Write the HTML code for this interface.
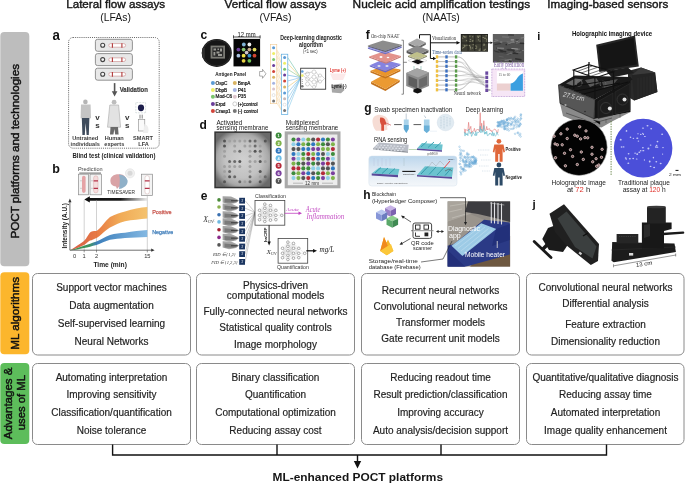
<!DOCTYPE html>
<html><head><meta charset="utf-8">
<style>
html,body{margin:0;padding:0;background:#fff;width:685px;height:484px;overflow:hidden}
svg{display:block;will-change:transform}
text{font-family:"Liberation Sans",sans-serif}
.bx{font-size:10px;fill:#1e1e1e;stroke:#1e1e1e;stroke-width:0.18}
.hd{font-size:10.7px;font-weight:bold;fill:#161616}
</style></head><body>
<svg width="685" height="484" viewBox="0 0 685 484">
<!-- ===== headings ===== -->
<g style="font-weight:normal;font-size:11.6px;fill:#161616;stroke:#161616;stroke-width:0.4">
<text x="66.2" y="7.9" textLength="99" lengthAdjust="spacingAndGlyphs">Lateral flow assays</text>
<text x="224.5" y="7.9" textLength="102" lengthAdjust="spacingAndGlyphs">Vertical flow assays</text>
<text x="352.6" y="7.9" textLength="177.5" lengthAdjust="spacingAndGlyphs">Nucleic acid amplification testings</text>
<text x="547.3" y="7.9" textLength="121" lengthAdjust="spacingAndGlyphs">Imaging-based sensors</text>
</g>
<g style="font-size:11px;fill:#161616">
<text x="100.3" y="21.2" textLength="30.6" lengthAdjust="spacingAndGlyphs">(LFAs)</text>
<text x="259.5" y="21.2" textLength="32" lengthAdjust="spacingAndGlyphs">(VFAs)</text>
<text x="422.3" y="21.2" textLength="37.5" lengthAdjust="spacingAndGlyphs">(NAATs)</text>
</g>

<!-- ===== side tabs ===== -->
<rect x="0.3" y="32" width="29" height="234.2" rx="4" fill="#bdbdbd"/>
<rect x="0.3" y="272.2" width="29" height="82" rx="4" fill="#fcb62c"/>
<rect x="0.3" y="363" width="29" height="81" rx="4" fill="#5dbd5b"/>
<g style="font-weight:normal;font-size:11.8px;fill:#111;stroke:#111;stroke-width:0.45">
<text transform="translate(18.6,238.5) rotate(-90)" textLength="174.5" lengthAdjust="spacingAndGlyphs">POCT platforms and technologies</text>
<text transform="translate(18.6,349.8) rotate(-90)" textLength="73" lengthAdjust="spacingAndGlyphs">ML algorithms</text>
<text transform="translate(12.2,439.3) rotate(-90)" textLength="71.8" lengthAdjust="spacingAndGlyphs">Advantages &amp;</text>
<text transform="translate(24.8,430.3) rotate(-90)" textLength="55.3" lengthAdjust="spacingAndGlyphs">uses of ML</text>
</g>

<!-- ===== boxes ===== -->
<g fill="none" stroke="#8a8a8a" stroke-width="1">
<rect x="32.5" y="273.5" width="158" height="81.5" rx="5"/>
<rect x="196.5" y="273.5" width="158" height="81.5" rx="5"/>
<rect x="361.5" y="273.5" width="158" height="81.5" rx="5"/>
<rect x="526.5" y="273.5" width="157.5" height="81.5" rx="5"/>
<rect x="32.5" y="363.5" width="158" height="81" rx="5"/>
<rect x="196.5" y="363.5" width="158" height="81" rx="5"/>
<rect x="361.5" y="363.5" width="158" height="81" rx="5"/>
<rect x="526.5" y="363.5" width="157.5" height="81" rx="5"/>
</g>
<g class="bx" text-anchor="middle">
<text x="111.5" y="291.1">Support vector machines</text>
<text x="111.5" y="309.0">Data augmentation</text>
<text x="111.5" y="327.0">Self-supervised learning</text>
<text x="111.5" y="344.8">Neural Networks</text>

<text x="275.5" y="288.6">Physics-driven</text>
<text x="275.5" y="298.5">computational models</text>
<text x="275.5" y="314.7">Fully-connected neural networks</text>
<text x="275.5" y="330.8">Statistical quality controls</text>
<text x="275.5" y="347.8">Image morphology</text>

<text x="440.5" y="294.4">Recurrent neural networks</text>
<text x="440.5" y="310.3">Convolutional neural networks</text>
<text x="440.5" y="326.0">Transformer models</text>
<text x="440.5" y="342.3">Gate recurrent unit models</text>

<text x="605.5" y="290.9">Convolutional neural networks</text>
<text x="605.5" y="307.3">Differential analysis</text>
<text x="605.5" y="327.6">Feature extraction</text>
<text x="605.5" y="344.7">Dimensionality reduction</text>

<text x="111.5" y="380.8">Automating interpretation</text>
<text x="111.5" y="398.4">Improving sensitivity</text>
<text x="111.5" y="416.3">Classification/quantification</text>
<text x="111.5" y="434.3">Noise tolerance</text>

<text x="275.5" y="380.8">Binary classification</text>
<text x="275.5" y="398.4">Quantification</text>
<text x="275.5" y="416.3">Computational optimization</text>
<text x="275.5" y="434.3">Reducing assay cost</text>

<text x="440.5" y="380.8">Reducing readout time</text>
<text x="440.5" y="398.4">Result prediction/classification</text>
<text x="440.5" y="416.3">Improving accuracy</text>
<text x="440.5" y="434.3">Auto analysis/decision support</text>

<text x="605.5" y="380.8">Quantitative/qualitative diagnosis</text>
<text x="605.5" y="398.4">Reducing assay time</text>
<text x="605.5" y="416.3">Automated interpretation</text>
<text x="605.5" y="434.3">Image quality enhancement</text>
</g>

<!-- ===== connectors ===== -->
<g stroke="#111" stroke-width="1.4" fill="none">
<path d="M112.6 444.5 V455 H606.5 V444.5 M277 444.5 V455 M441 444.5 V455 M357.5 455 V462"/>
</g>
<path d="M353.8 461 L361.2 461 L357.5 468.5 Z" fill="#111"/>
<text x="272.5" y="480.6" textLength="170.5" lengthAdjust="spacingAndGlyphs" style="font-size:11.3px;font-weight:bold;fill:#161616">ML-enhanced POCT platforms</text>

<!-- PANELS -->
<!-- ===== panel a ===== -->
<g id="pa">
<text x="52.6" y="40.2" textLength="7.4" lengthAdjust="spacingAndGlyphs" style="font-size:14px;font-weight:bold;fill:#111">a</text>
<rect x="68.6" y="37.5" width="90.6" height="110.7" rx="4.5" fill="none" stroke="#555" stroke-width="0.9" stroke-dasharray="1,1.1"/>
<g stroke="#7a7a7a" stroke-width="0.8" fill="#e8e8e8">
<rect x="95.4" y="39.3" width="37" height="12" rx="2.2"/>
<rect x="95.4" y="53.6" width="37" height="12" rx="2.2"/>
<rect x="95.4" y="68.2" width="37" height="12" rx="2.2"/>
</g>
<g fill="#f4f4f4" stroke="#444" stroke-width="1.1">
<circle cx="102.7" cy="45.3" r="2"/><circle cx="102.7" cy="59.6" r="2"/><circle cx="102.7" cy="74.2" r="2"/>
</g>
<g fill="#fff" stroke="#c98a8a" stroke-width="0.6">
<rect x="108.8" y="43.6" width="16.8" height="3.6" rx="1.8"/>
<rect x="108.8" y="57.9" width="16.8" height="3.6" rx="1.8"/>
<rect x="108.8" y="72.5" width="16.8" height="3.6" rx="1.8"/>
</g>
<g stroke="#b23a3a" stroke-width="1.1">
<path d="M112.4 43.2V47.8M121.9 43.2V47.8M112.4 57.5V62.1M121.9 57.5V62.1M112.4 72.1V76.7M121.9 72.1V76.7"/>
</g>
<path d="M114.6 83.1V92" stroke="#555" stroke-width="1.6"/>
<path d="M111.8 91.2H117.4L114.6 96.4Z" fill="#555"/>
<text x="119.7" y="91.6" style="font-size:6.6px;font-weight:bold;fill:#333;stroke:#333;stroke-width:0.15" textLength="28.2" lengthAdjust="spacingAndGlyphs">Validation</text>
<!-- person 1 -->
<circle cx="85.4" cy="101.9" r="2.3" fill="#b5b5b5"/>
<path d="M81 104.6 H90.6 L91 118.2 H80.6 Z" fill="#c4c4c4"/>
<path d="M81.8 118 H89.4 L88.8 135 H86.6 L85.6 123 L84.8 135 H82.4 Z" fill="#3e4b5c"/>
<!-- person 2 -->
<circle cx="114.1" cy="102.2" r="2.4" fill="#bdbdbd"/>
<path d="M109.8 105 H118.6 L120.6 127.2 H107.5 Z" fill="#e2e2e2" stroke="#a8a8a8" stroke-width="0.6"/>
<path d="M110.5 127 H118 L118.6 134.4 H115.2 L114.4 129 L113.4 134.4 H110 Z" fill="#6a6a6a"/>
<g style="font-size:6.2px;font-weight:bold;fill:#333" text-anchor="middle">
<text x="97.6" y="120.4" style="font-size:8px">v</text><text x="97.6" y="127.6" style="font-size:8px">s</text>
<text x="127.2" y="120.4" style="font-size:8px">v</text><text x="127.2" y="127.6" style="font-size:8px">s</text>
</g>
<rect x="135.8" y="102.6" width="9.8" height="10.2" fill="none" stroke="#9aa" stroke-width="0.6" stroke-dasharray="0.6,0.9"/>
<ellipse cx="141" cy="107.8" rx="3.1" ry="3.4" fill="#1c1d4a"/>
<path d="M140 114.7V118.6M142.2 114.7V118.6" stroke="#333" stroke-width="0.6"/>
<rect x="138.4" y="119.4" width="6.4" height="11.6" fill="#fafafa" stroke="#8a8a8a" stroke-width="0.6"/>
<path d="M144.5 124 Q150 126 148 133 L143 133Z" fill="#eee"/>
<g style="font-size:5.6px;font-weight:bold;fill:#3a3a3a" text-anchor="middle">
<text x="85.2" y="140.3">Untrained</text><text x="85.2" y="146.2">individuals</text>
<text x="114.3" y="140.3">Human</text><text x="114.3" y="146.2">experts</text>
<text x="143" y="140.3">SMART</text><text x="143.6" y="146.2">LFA</text>
</g>
<text x="72.4" y="158.3" style="font-size:6.9px;font-weight:bold;fill:#222" textLength="83" lengthAdjust="spacingAndGlyphs">Blind test (clinical validation)</text>
</g>
<!-- ===== panel b ===== -->
<g id="pb">
<text x="52.3" y="172.7" style="font-size:12.5px;font-weight:bold;fill:#111">b</text>
<text x="77.9" y="170.5" style="font-size:5.6px;fill:#444" textLength="24.7" lengthAdjust="spacingAndGlyphs">Prediction</text>
<path d="M79.3 173.1H101" stroke="#555" stroke-width="0.9"/>
<g fill="#f3f3f3" stroke="#8c8c8c" stroke-width="0.7">
<rect x="78.5" y="174.2" width="9.9" height="20.6"/>
<rect x="90" y="174.2" width="11.5" height="20.6"/>
<rect x="141.6" y="174.2" width="10.9" height="21.3"/>
</g>
<rect x="82" y="175.8" width="3.6" height="17.1" rx="1.8" fill="#e5a3a6"/>
<rect x="93.6" y="175.8" width="4.4" height="17.1" rx="2.2" fill="#f5dcdc" stroke="#d49a9a" stroke-width="0.4"/>
<path d="M93.6 180.8H98M93.6 188.3H98" stroke="#b4344a" stroke-width="1.2"/>
<rect x="145" y="175.6" width="4.4" height="18.4" rx="2.2" fill="#fff" stroke="#c9a0a0" stroke-width="0.4"/>
<path d="M144.8 180.8H149.6M144.8 188.3H149.6" stroke="#b4344a" stroke-width="1.3"/>
<path d="M80 180.8H82M80 188.3H82M91 180.8H93M91 188.3H93" stroke="#999" stroke-width="0.4"/>
<!-- brain -->
<path d="M110.5 182 C109.5 176 115 173.6 120 174.3 C124 174.6 126 177 126 180 C126 184 123 186.5 119 186.8 L117 189 L116 186.5 C112.5 186 110.8 184.5 110.5 182Z" fill="#d9a3a6"/>
<path d="M119 174.5 C123 174.6 126.5 177 127.6 180.5 C128 184 125.5 187 121.5 188.5 L119 189 C119.8 184 120.4 179 119 174.5Z" fill="#8fb0c8"/>
<circle cx="130" cy="173.3" r="4.6" fill="#f0f0f0" stroke="#ddd" stroke-width="0.5"/>
<circle cx="130" cy="173.3" r="2.5" fill="#d8d8d8"/>
<text x="107.3" y="194" style="font-size:5.9px;fill:#333" textLength="27.7" lengthAdjust="spacingAndGlyphs">TIMESAVER</text>
<defs>
<linearGradient id="arrg" gradientUnits="userSpaceOnUse" x1="88" x2="147" y1="0" y2="0"><stop offset="0" stop-color="#111"/><stop offset="0.55" stop-color="#1a1a1a"/><stop offset="1" stop-color="#333" stop-opacity="0.1"/></linearGradient>
<linearGradient id="posg" x1="0" x2="1" y1="0" y2="0"><stop offset="0" stop-color="#d24f39"/><stop offset="0.35" stop-color="#e66f35"/><stop offset="0.65" stop-color="#f0a448"/><stop offset="1" stop-color="#f4bd62"/></linearGradient>
<linearGradient id="negg" x1="0" x2="1" y1="0" y2="0"><stop offset="0" stop-color="#2e8a3e"/><stop offset="0.25" stop-color="#2f8a50"/><stop offset="0.35" stop-color="#2d75b6"/><stop offset="1" stop-color="#79b2e0"/></linearGradient>
</defs>
<path d="M88.5 199.4H147" stroke="url(#arrg)" stroke-width="2.6"/>
<path d="M84.3 199.4L89.8 196.3V202.5Z" fill="#111"/>
<!-- guide lines -->
<path d="M84.2 200V250M96.5 200V250M147.3 196V250" stroke="#9a9a9a" stroke-width="0.45"/>
<!-- bands -->
<path d="M70 250.2 C75 247.5 80 243.5 84 240.9 C87 238.5 88.5 233.5 91 231.8 C93.5 230.8 95 231 96.5 230.9 C101 228 105 221 110 216.9 C115 214.5 120 213 125 211.6 C133 209 140 207.5 147.3 207 L147.3 218.6 C140 219.5 132 220 125 221.3 C119 223 115 225 110 227.4 C104 231 100 236.5 96.5 237.9 C94 239 92 240 90 240.5 C88 241.5 86 244 84 244.9 C80 247 75 249 70 250.2Z" fill="url(#posg)" opacity="0.92"/>
<path d="M70 250.2 C75 249 80 247 84 245.8 C88 244.5 92 242.5 96.5 241.4 C101 239.5 105 236.5 110 234.9 C115 233.5 120 233 125 232.7 C133 231.5 140 230.5 147.3 230 L147.3 237 C140 237.5 132 237.5 125 237.9 C119 238.5 115 238.8 110 239.7 C105 241 101 243.5 96.5 244.9 C92 246 88 247.3 84 247.9 C79 249 75 249.7 70 250.2Z" fill="url(#negg)" opacity="0.92"/>
<!-- axes -->
<path d="M69.9 201.5V250.2H152" stroke="#333" stroke-width="0.7" fill="none"/>
<path d="M68.3 202.2L69.9 198.6L71.5 202.2Z M151.2 248.6L154.6 250.2L151.2 251.8Z" fill="#333"/>
<path d="M84.2 250.2V252.4M96.5 250.2V252.4M147.3 250.2V252.4" stroke="#333" stroke-width="0.5"/>
<g style="font-size:5.7px;fill:#333" text-anchor="middle">
<text x="74.6" y="258.4">0</text><text x="84.2" y="258.4">1</text><text x="96.5" y="258.4">2</text><text x="147.3" y="258.4">15</text>
</g>
<text x="93.4" y="266.8" style="font-size:7.2px;font-weight:bold;fill:#222" textLength="33.5" lengthAdjust="spacingAndGlyphs">Time (min)</text>
<text transform="translate(66.8,248.6) rotate(-90)" style="font-size:7.2px;font-weight:bold;fill:#222" textLength="45.6" lengthAdjust="spacingAndGlyphs">Intensity (A.U.)</text>
<text x="152.2" y="214.3" style="font-size:6.1px;fill:#c7534a;stroke:#c7534a;stroke-width:0.25" textLength="19.3" lengthAdjust="spacingAndGlyphs">Positive</text>
<text x="152.2" y="234.4" style="font-size:6.1px;fill:#3a7ab8;stroke:#3a7ab8;stroke-width:0.25" textLength="21" lengthAdjust="spacingAndGlyphs">Negative</text>
</g>

<!-- /AB -->
<!-- CDE -->
<!-- ===== panel c ===== -->
<text x="200.6" y="39.4" style="font-size:12px;font-weight:bold;fill:#111">c</text>
<ellipse cx="216.8" cy="52.9" rx="15" ry="14" fill="#161616"/>
<path d="M202.5 48 Q201 53 202.6 58 L205 58 L205 48Z" fill="#2a2a2a"/>
<ellipse cx="216.8" cy="52.9" rx="14" ry="13" fill="none" stroke="#3a3a3a" stroke-width="0.6"/>
<rect x="210.6" y="45.6" width="14.4" height="13" fill="#7a7a74"/>
<rect x="212.4" y="47.4" width="10.8" height="9.4" fill="#2a2a2a"/>
<path d="M213.5 48.5h2.5v2h-2.5zM217.5 48.5h1.5v1.5h-1.5zM220 48.5h2v3h-2zM213.5 52h1.8v3.5h-1.8zM216.5 51.5h3v2h-3zM218 54h4v2h-4z" fill="#9a9a94"/>
<rect x="233.5" y="38.9" width="26.6" height="27.5" fill="#050505"/>
<path d="M233.5 37H260.1M233.5 35.3V38.5M260.1 35.3V38.5" stroke="#222" stroke-width="0.8"/>
<text x="237.6" y="37" style="font-size:6.6px;fill:#111" textLength="18" lengthAdjust="spacingAndGlyphs">12 mm</text>
<circle cx="243.8" cy="44.5" r="1.9" fill="#7fb2d6"/>
<circle cx="249.4" cy="44.5" r="1.9" fill="#f2f2f2"/>
<circle cx="238.4" cy="49.6" r="1.9" fill="#6b3f98"/>
<circle cx="243.6" cy="49.6" r="1.9" fill="#8cc874"/>
<circle cx="249.4" cy="49.6" r="1.9" fill="#c8aa8c"/>
<circle cx="254.5" cy="49.6" r="1.9" fill="#e6df5e"/>
<circle cx="246.6" cy="52.6" r="1.9" fill="#cfc6cc"/>
<circle cx="238.4" cy="55.7" r="1.9" fill="#a9c2df"/>
<circle cx="243.6" cy="55.7" r="1.9" fill="#eedf44"/>
<circle cx="249.4" cy="55.7" r="1.9" fill="#3a92d2"/>
<circle cx="254.5" cy="55.7" r="1.9" fill="#d24532"/>
<circle cx="243.6" cy="60.8" r="1.9" fill="#e6cf44"/>
<circle cx="249.4" cy="60.8" r="1.9" fill="#72c152"/>
<text x="215.2" y="75.6" style="font-size:5.6px;font-weight:bold;fill:#222" textLength="31" lengthAdjust="spacingAndGlyphs">Antigen Panel</text>
<circle cx="212.9" cy="82.9" r="2" fill="#5b9bd5"/>
<text x="215.5" y="84.5" style="font-size:4.7px;fill:#222;stroke:#222;stroke-width:0.22">OspC</text>
<circle cx="212.9" cy="89.9" r="2" fill="#eeee66"/>
<text x="215.5" y="91.5" style="font-size:4.7px;fill:#222;stroke:#222;stroke-width:0.22">DbpB</text>
<circle cx="212.9" cy="96.80000000000001" r="2" fill="#7cc66e"/>
<text x="215.5" y="98.4" style="font-size:4.7px;fill:#222;stroke:#222;stroke-width:0.22">Mod-C6</text>
<circle cx="212.9" cy="103.9" r="2" fill="#6a3d9a"/>
<text x="215.5" y="105.5" style="font-size:4.7px;fill:#222;stroke:#222;stroke-width:0.22">Erpd</text>
<circle cx="212.9" cy="111.0" r="2" fill="#d2443a"/>
<text x="215.5" y="112.6" style="font-size:4.7px;fill:#222;stroke:#222;stroke-width:0.22">Crasp1</text>
<circle cx="234.8" cy="82.9" r="2" fill="#d9b464"/>
<text x="237.7" y="84.5" style="font-size:4.7px;fill:#222;stroke:#222;stroke-width:0.22">BmpA</text>
<circle cx="234.8" cy="89.9" r="2" fill="#a5b3e2"/>
<text x="237.7" y="91.5" style="font-size:4.7px;fill:#222;stroke:#222;stroke-width:0.22">P41</text>
<circle cx="234.8" cy="96.80000000000001" r="2" fill="#dcc4cc"/>
<text x="237.7" y="98.4" style="font-size:4.7px;fill:#222;stroke:#222;stroke-width:0.22">P35</text>
<circle cx="234.8" cy="103.9" r="2" fill="#ffffff" stroke="#888" stroke-width="0.4"/>
<text x="237.7" y="105.5" style="font-size:4.7px;fill:#222;stroke:#222;stroke-width:0.22">(+)control</text>
<circle cx="234.8" cy="111.0" r="2" fill="#777777"/>
<text x="237.7" y="112.6" style="font-size:4.7px;fill:#222;stroke:#222;stroke-width:0.22">(-) control</text>
<path d="M259.6 71.5H262.5V69.3L266 73.8L262.5 78.3V76.1H259.6Z" fill="#fff" stroke="#777" stroke-width="0.6"/>
<text x="280.2" y="40.3" style="font-size:6.6px;font-weight:bold;fill:#222" textLength="61.8" lengthAdjust="spacingAndGlyphs">Deep-learning diagnostic</text>
<text x="299.1" y="46.6" style="font-size:6.6px;font-weight:bold;fill:#222" textLength="23.9" lengthAdjust="spacingAndGlyphs">algorithm</text>
<text x="303.1" y="52.6" style="font-size:4.6px;fill:#333" textLength="14.5" lengthAdjust="spacingAndGlyphs">(&lt;1 sec)</text>
<path d="M275.5 47.7L281.6 57.4M275.5 47.7L281.6 63.3M275.5 53.6L281.6 63.3M275.5 53.6L281.6 69.2M275.5 59.5L281.6 69.2M275.5 59.5L281.6 75.1M275.5 65.5L281.6 75.1M275.5 65.5L281.6 81.0M275.5 71.4L281.6 81.0M275.5 71.4L281.6 87.0M275.5 77.3L281.6 87.0M275.5 77.3L281.6 92.9M275.5 83.2L281.6 92.9M275.5 83.2L281.6 98.8M275.5 89.1L281.6 98.8M275.5 89.1L281.6 104.7M275.5 95.1L281.6 104.7M275.5 95.1L281.6 110.6M275.5 101.0L281.6 110.6" stroke="#f0c070" stroke-width="0.35" fill="none"/>
<path d="M287.6 57.4L300.7 77.5" stroke="#3aaa8a" stroke-width="0.45"/>
<path d="M287.6 63.3L300.7 77.5" stroke="#e0c040" stroke-width="0.45"/>
<path d="M287.6 69.2L300.7 77.5" stroke="#60b060" stroke-width="0.45"/>
<path d="M287.6 75.1L300.7 77.5" stroke="#3090d0" stroke-width="0.45"/>
<path d="M287.6 81.0L300.7 77.5" stroke="#50a0e0" stroke-width="0.45"/>
<path d="M287.6 87.0L300.7 77.5" stroke="#e0b040" stroke-width="0.45"/>
<path d="M287.6 92.9L300.7 77.5" stroke="#3a9ad8" stroke-width="0.45"/>
<path d="M287.6 98.8L300.7 77.5" stroke="#5ab0e0" stroke-width="0.45"/>
<path d="M287.6 104.7L300.7 77.5" stroke="#4aa0d8" stroke-width="0.45"/>
<path d="M287.6 110.6L300.7 77.5" stroke="#60b8e0" stroke-width="0.45"/>
<rect x="270.4" y="44.5" width="6.4" height="59.2" fill="#fff" stroke="#f0c890" stroke-width="0.6"/>
<rect x="281.4" y="54.2" width="6.4" height="60.3" fill="#fff" stroke="#5aaadf" stroke-width="0.7"/>
<circle cx="273.6" cy="47.7" r="1.5" fill="#5b9bd5"/>
<circle cx="273.6" cy="53.6" r="1.5" fill="#eeee66"/>
<circle cx="273.6" cy="59.5" r="1.5" fill="#7cc66e"/>
<circle cx="273.6" cy="65.5" r="1.5" fill="#6a3d9a"/>
<circle cx="273.6" cy="71.4" r="1.5" fill="#d2443a"/>
<circle cx="273.6" cy="77.3" r="1.5" fill="#d9b464"/>
<circle cx="273.6" cy="83.2" r="1.5" fill="#a5b3e2"/>
<circle cx="273.6" cy="89.1" r="1.5" fill="#dcc4cc"/>
<circle cx="273.6" cy="95.1" r="1.5" fill="#ffffff" stroke="#aaa" stroke-width="0.3"/>
<circle cx="273.6" cy="101.0" r="1.5" fill="#777777"/>
<circle cx="284.6" cy="57.4" r="1.5" fill="#5b9bd5"/>
<circle cx="284.6" cy="63.3" r="1.5" fill="#eeee66"/>
<circle cx="284.6" cy="69.2" r="1.5" fill="#7cc66e"/>
<circle cx="284.6" cy="75.1" r="1.5" fill="#6a3d9a"/>
<circle cx="284.6" cy="81.0" r="1.5" fill="#d2443a"/>
<circle cx="284.6" cy="87.0" r="1.5" fill="#d9b464"/>
<circle cx="284.6" cy="92.9" r="1.5" fill="#5b9bd5"/>
<circle cx="284.6" cy="98.8" r="1.5" fill="#c8b8b8"/>
<circle cx="284.6" cy="104.7" r="1.5" fill="#ffffff" stroke="#aaa" stroke-width="0.3"/>
<circle cx="284.6" cy="110.6" r="1.5" fill="#777777"/>
<rect x="300.7" y="68.2" width="25" height="21" fill="#fff" stroke="#222" stroke-width="0.8"/>
<circle cx="302.3" cy="71.5" r="1.3" fill="#5b9bd5"/><circle cx="302.3" cy="75.6" r="1.3" fill="#eeee66"/><path d="M302.3 79.5v0.6M302.3 81.3v0.6M302.3 83.1v0.6" stroke="#333" stroke-width="0.8"/><circle cx="302.3" cy="86.3" r="1.3" fill="#777"/>
<g fill="none" stroke="#999" stroke-width="0.4"><circle cx="307.5" cy="74" r="2"/><circle cx="307.5" cy="79" r="2"/><circle cx="307.5" cy="84" r="2"/><circle cx="314" cy="72" r="2"/><circle cx="314" cy="77" r="2"/><circle cx="314" cy="82" r="2"/><circle cx="314" cy="87" r="1.6"/><circle cx="320" cy="75.5" r="1.6"/><circle cx="320" cy="81.5" r="1.6"/><path d="M303.5 74L312 72M303.5 76L312 82M309.5 79L312 77M309.5 84L312 87M316 72L318.5 75.5M316 82L318.5 81.5M316 77L318.5 81.5M316 87L318.5 75.5M321.6 75.5L324.5 78.5M321.6 81.5L324.5 78.5"/></g>
<text x="329.7" y="71.9" style="font-size:4.8px;font-weight:bold;fill:#e0302a" textLength="16.2" lengthAdjust="spacingAndGlyphs">Lyme (+)</text>
<path d="M330 73.5 L346 73.5 L343 80 L333 80Z" fill="#fbe4e4" opacity="0.8"/>
<path d="M331.4 85 L342 83.5 L344.5 90 L341 93.2 L332 92.5Z" fill="#a8a8a8"/>
<text x="331.4" y="87.6" style="font-size:4.8px;font-weight:bold;fill:#111" textLength="15.3" lengthAdjust="spacingAndGlyphs">Lyme (-)</text>
<!-- ===== panel d ===== -->
<text x="199.6" y="129.4" style="font-size:12px;font-weight:bold;fill:#111">d</text>
<text x="216.4" y="125" style="font-size:6.6px;fill:#222" textLength="26" lengthAdjust="spacingAndGlyphs">Activated</text>
<text x="216.4" y="130.3" style="font-size:6.6px;fill:#222" textLength="51.9" lengthAdjust="spacingAndGlyphs">sensing membrane</text>
<text x="285.8" y="125" style="font-size:6.6px;fill:#222" textLength="33" lengthAdjust="spacingAndGlyphs">Multiplexed</text>
<text x="285.8" y="130.3" style="font-size:6.6px;fill:#222" textLength="52.5" lengthAdjust="spacingAndGlyphs">sensing membrane</text>
<defs><radialGradient id="memg" cx="0.5" cy="0.5" r="0.6"><stop offset="0" stop-color="#d0d0d0"/><stop offset="0.55" stop-color="#c2c2c2"/><stop offset="0.8" stop-color="#a8a8a8"/><stop offset="1" stop-color="#6a6a6a"/></radialGradient></defs>
<rect x="214.3" y="131.4" width="57.3" height="56.9" fill="#333"/>
<rect x="215.8" y="132.9" width="54.3" height="53.9" fill="url(#memg)"/>
<circle cx="224.5" cy="141.0" r="1.5" fill="#555"/><circle cx="229.6" cy="141.0" r="1.5" fill="#a0a0a0"/><circle cx="234.7" cy="141.0" r="1.5" fill="#a0a0a0"/><circle cx="239.8" cy="141.0" r="1.5" fill="#a0a0a0"/><circle cx="244.9" cy="141.0" r="1.5" fill="#a0a0a0"/><circle cx="250.0" cy="141.0" r="1.5" fill="#6a6a6a"/><circle cx="255.1" cy="141.0" r="1.5" fill="#6a6a6a"/><circle cx="265.3" cy="141.0" r="1.5" fill="#555"/><circle cx="224.5" cy="146.1" r="1.5" fill="#555"/><circle cx="234.7" cy="146.1" r="1.5" fill="#a0a0a0"/><circle cx="244.9" cy="146.1" r="1.5" fill="#a0a0a0"/><circle cx="250.0" cy="146.1" r="1.5" fill="#a0a0a0"/><circle cx="255.1" cy="146.1" r="1.5" fill="#6a6a6a"/><circle cx="260.2" cy="146.1" r="1.5" fill="#a0a0a0"/><circle cx="224.5" cy="151.2" r="1.5" fill="#a0a0a0"/><circle cx="234.7" cy="151.2" r="1.5" fill="#a0a0a0"/><circle cx="239.8" cy="151.2" r="1.5" fill="#6a6a6a"/><circle cx="250.0" cy="151.2" r="1.5" fill="#a0a0a0"/><circle cx="255.1" cy="151.2" r="1.5" fill="#555"/><circle cx="260.2" cy="151.2" r="1.5" fill="#6a6a6a"/><circle cx="224.5" cy="156.3" r="1.5" fill="#a0a0a0"/><circle cx="250.0" cy="156.3" r="1.5" fill="#a0a0a0"/><circle cx="260.2" cy="156.3" r="1.5" fill="#a0a0a0"/><circle cx="229.6" cy="161.4" r="1.5" fill="#6a6a6a"/><circle cx="234.7" cy="161.4" r="1.5" fill="#6a6a6a"/><circle cx="239.8" cy="161.4" r="1.5" fill="#555"/><circle cx="250.0" cy="161.4" r="1.5" fill="#a0a0a0"/><circle cx="255.1" cy="161.4" r="1.5" fill="#a0a0a0"/><circle cx="260.2" cy="161.4" r="1.5" fill="#555"/><circle cx="265.3" cy="161.4" r="1.5" fill="#a0a0a0"/><circle cx="224.5" cy="166.5" r="1.5" fill="#a0a0a0"/><circle cx="229.6" cy="166.5" r="1.5" fill="#a0a0a0"/><circle cx="234.7" cy="166.5" r="1.5" fill="#a0a0a0"/><circle cx="239.8" cy="166.5" r="1.5" fill="#a0a0a0"/><circle cx="250.0" cy="166.5" r="1.5" fill="#a0a0a0"/><circle cx="224.5" cy="171.6" r="1.5" fill="#a0a0a0"/><circle cx="229.6" cy="171.6" r="1.5" fill="#6a6a6a"/><circle cx="250.0" cy="171.6" r="1.5" fill="#a0a0a0"/><circle cx="260.2" cy="171.6" r="1.5" fill="#555"/><circle cx="224.5" cy="176.7" r="1.5" fill="#a0a0a0"/><circle cx="229.6" cy="176.7" r="1.5" fill="#555"/><circle cx="234.7" cy="176.7" r="1.5" fill="#6a6a6a"/><circle cx="250.0" cy="176.7" r="1.5" fill="#6a6a6a"/><circle cx="260.2" cy="176.7" r="1.5" fill="#a0a0a0"/><circle cx="265.3" cy="176.7" r="1.5" fill="#6a6a6a"/><circle cx="224.5" cy="181.8" r="1.5" fill="#555"/><circle cx="239.8" cy="181.8" r="1.5" fill="#6a6a6a"/><circle cx="244.9" cy="181.8" r="1.5" fill="#a0a0a0"/><circle cx="250.0" cy="181.8" r="1.5" fill="#6a6a6a"/><circle cx="260.2" cy="181.8" r="1.5" fill="#555"/>
<circle cx="278.6" cy="135.6" r="3" fill="#3d8c3d"/><text x="278.6" y="137.1" text-anchor="middle" style="font-size:4px;font-weight:bold;fill:#fff">1</text>
<circle cx="278.6" cy="143.2" r="3" fill="#7fb34a"/><text x="278.6" y="144.7" text-anchor="middle" style="font-size:4px;font-weight:bold;fill:#fff">2</text>
<circle cx="278.6" cy="150.7" r="3" fill="#2f78c0"/><text x="278.6" y="152.2" text-anchor="middle" style="font-size:4px;font-weight:bold;fill:#fff">3</text>
<circle cx="278.6" cy="158.2" r="3" fill="#6fbfe8"/><text x="278.6" y="159.8" text-anchor="middle" style="font-size:4px;font-weight:bold;fill:#fff">4</text>
<circle cx="278.6" cy="165.8" r="3" fill="#b52a3a"/><text x="278.6" y="167.3" text-anchor="middle" style="font-size:4px;font-weight:bold;fill:#fff">5</text>
<circle cx="278.6" cy="173.3" r="3" fill="#7b3f9e"/><text x="278.6" y="174.8" text-anchor="middle" style="font-size:4px;font-weight:bold;fill:#fff">6</text>
<circle cx="278.6" cy="180.9" r="3" fill="#555555"/><text x="278.6" y="182.4" text-anchor="middle" style="font-size:4px;font-weight:bold;fill:#fff">7</text>
<rect x="284.7" y="131.4" width="55.8" height="56.9" fill="#a9a9a9"/>
<rect x="287.8" y="134.5" width="49.6" height="50.7" fill="#ececec"/>
<circle cx="293.5" cy="139.5" r="2.05" fill="#3d8c3d"/><circle cx="298.4" cy="139.5" r="2.05" fill="#7b3f9e"/><circle cx="303.3" cy="139.5" r="2.05" fill="#8ecfe8"/><circle cx="308.3" cy="139.5" r="2.05" fill="#7fb34a"/><circle cx="313.2" cy="139.5" r="2.05" fill="#555555"/><circle cx="318.1" cy="139.5" r="2.05" fill="#b52a3a"/><circle cx="323.0" cy="139.5" r="2.05" fill="#2f78c0"/><circle cx="327.9" cy="139.5" r="2.05" fill="#3d8c3d"/><circle cx="332.9" cy="139.5" r="2.05" fill="#7b3f9e"/><circle cx="293.5" cy="144.3" r="2.05" fill="#8ecfe8"/><circle cx="298.4" cy="144.3" r="2.05" fill="#2f78c0"/><circle cx="303.3" cy="144.3" r="2.05" fill="#7fb34a"/><circle cx="308.3" cy="144.3" r="2.05" fill="#3d8c3d"/><circle cx="313.2" cy="144.3" r="2.05" fill="#2f78c0"/><circle cx="318.1" cy="144.3" r="2.05" fill="#7fb34a"/><circle cx="323.0" cy="144.3" r="2.05" fill="#3d8c3d"/><circle cx="327.9" cy="144.3" r="2.05" fill="#555555"/><circle cx="332.9" cy="144.3" r="2.05" fill="#7fb34a"/><circle cx="293.5" cy="149.1" r="2.05" fill="#555555"/><circle cx="298.4" cy="149.1" r="2.05" fill="#555555"/><circle cx="303.3" cy="149.1" r="2.05" fill="#2f78c0"/><circle cx="308.3" cy="149.1" r="2.05" fill="#2f78c0"/><circle cx="313.2" cy="149.1" r="2.05" fill="#7b3f9e"/><circle cx="318.1" cy="149.1" r="2.05" fill="#7b3f9e"/><circle cx="323.0" cy="149.1" r="2.05" fill="#7fb34a"/><circle cx="327.9" cy="149.1" r="2.05" fill="#7fb34a"/><circle cx="332.9" cy="149.1" r="2.05" fill="#b52a3a"/><circle cx="293.5" cy="154.0" r="2.05" fill="#2f78c0"/><circle cx="298.4" cy="154.0" r="2.05" fill="#8ecfe8"/><circle cx="303.3" cy="154.0" r="2.05" fill="#3d8c3d"/><circle cx="308.3" cy="154.0" r="2.05" fill="#b52a3a"/><circle cx="313.2" cy="154.0" r="2.05" fill="#7fb34a"/><circle cx="318.1" cy="154.0" r="2.05" fill="#2f78c0"/><circle cx="323.0" cy="154.0" r="2.05" fill="#555555"/><circle cx="327.9" cy="154.0" r="2.05" fill="#8ecfe8"/><circle cx="332.9" cy="154.0" r="2.05" fill="#3d8c3d"/><circle cx="293.5" cy="158.8" r="2.05" fill="#7b3f9e"/><circle cx="298.4" cy="158.8" r="2.05" fill="#8ecfe8"/><circle cx="303.3" cy="158.8" r="2.05" fill="#7fb34a"/><circle cx="308.3" cy="158.8" r="2.05" fill="#555555"/><circle cx="313.2" cy="158.8" r="2.05" fill="#b52a3a"/><circle cx="318.1" cy="158.8" r="2.05" fill="#2f78c0"/><circle cx="323.0" cy="158.8" r="2.05" fill="#3d8c3d"/><circle cx="327.9" cy="158.8" r="2.05" fill="#7b3f9e"/><circle cx="332.9" cy="158.8" r="2.05" fill="#8ecfe8"/><circle cx="293.5" cy="163.6" r="2.05" fill="#7fb34a"/><circle cx="298.4" cy="163.6" r="2.05" fill="#3d8c3d"/><circle cx="303.3" cy="163.6" r="2.05" fill="#555555"/><circle cx="308.3" cy="163.6" r="2.05" fill="#7b3f9e"/><circle cx="313.2" cy="163.6" r="2.05" fill="#3d8c3d"/><circle cx="318.1" cy="163.6" r="2.05" fill="#555555"/><circle cx="323.0" cy="163.6" r="2.05" fill="#7b3f9e"/><circle cx="327.9" cy="163.6" r="2.05" fill="#b52a3a"/><circle cx="332.9" cy="163.6" r="2.05" fill="#555555"/><circle cx="293.5" cy="168.4" r="2.05" fill="#b52a3a"/><circle cx="298.4" cy="168.4" r="2.05" fill="#b52a3a"/><circle cx="303.3" cy="168.4" r="2.05" fill="#3d8c3d"/><circle cx="308.3" cy="168.4" r="2.05" fill="#3d8c3d"/><circle cx="313.2" cy="168.4" r="2.05" fill="#8ecfe8"/><circle cx="318.1" cy="168.4" r="2.05" fill="#8ecfe8"/><circle cx="323.0" cy="168.4" r="2.05" fill="#555555"/><circle cx="327.9" cy="168.4" r="2.05" fill="#555555"/><circle cx="332.9" cy="168.4" r="2.05" fill="#2f78c0"/><circle cx="293.5" cy="173.2" r="2.05" fill="#3d8c3d"/><circle cx="298.4" cy="173.2" r="2.05" fill="#7fb34a"/><circle cx="303.3" cy="173.2" r="2.05" fill="#7b3f9e"/><circle cx="308.3" cy="173.2" r="2.05" fill="#2f78c0"/><circle cx="313.2" cy="173.2" r="2.05" fill="#555555"/><circle cx="318.1" cy="173.2" r="2.05" fill="#3d8c3d"/><circle cx="323.0" cy="173.2" r="2.05" fill="#b52a3a"/><circle cx="327.9" cy="173.2" r="2.05" fill="#7fb34a"/><circle cx="332.9" cy="173.2" r="2.05" fill="#7b3f9e"/><circle cx="293.5" cy="178.1" r="2.05" fill="#8ecfe8"/><circle cx="298.4" cy="178.1" r="2.05" fill="#7fb34a"/><circle cx="303.3" cy="178.1" r="2.05" fill="#555555"/><circle cx="308.3" cy="178.1" r="2.05" fill="#b52a3a"/><circle cx="313.2" cy="178.1" r="2.05" fill="#2f78c0"/><circle cx="318.1" cy="178.1" r="2.05" fill="#3d8c3d"/><circle cx="323.0" cy="178.1" r="2.05" fill="#7b3f9e"/><circle cx="327.9" cy="178.1" r="2.05" fill="#8ecfe8"/><circle cx="332.9" cy="178.1" r="2.05" fill="#7fb34a"/>
<path d="M293 183.2H303M322 183.2H333" stroke="#666" stroke-width="0.4"/>
<text x="305" y="184.8" style="font-size:4.6px;fill:#333">12 mm</text>
<!-- ===== panel e ===== -->
<text x="200.8" y="199.6" style="font-size:12px;font-weight:bold;fill:#111">e</text>
<path d="M245.1 200.7L255 212.3M245.1 208.2L255 212.3M245.1 216.0L255 212.3M245.1 223.6L255 212.3M245.1 231.3L255 212.3M245.1 238.8L255 212.3M245.1 246.5L255 212.3M245.1 254.1L255 212.3M245.1 261.9L255 212.3" stroke="#777" stroke-width="0.35" fill="none"/>
<circle cx="219" cy="199.9" r="1.8" fill="#4a8a3a"/>
<circle cx="219" cy="207" r="1.8" fill="#8ab050"/>
<circle cx="219" cy="214.8" r="1.8" fill="#3a70b0"/>
<circle cx="219" cy="221.9" r="1.8" fill="#70b8e0"/>
<circle cx="219" cy="229.7" r="1.8" fill="#a02030"/>
<circle cx="219" cy="237.4" r="1.8" fill="#8a2a8a"/>
<circle cx="219" cy="244.9" r="1.8" fill="#555555"/>
<path d="M222.6 196.3L231 196.5L236 198.7L239 200.5L236 202.9L229 204.3L222.6 202.5Z" fill="#a4a4a4"/>
<path d="M224.5 198.5L233 199.3L238.5 200.7L233.5 202.7L224.5 202.5Z" fill="#7a7a7a"/>
<path d="M231 200.7H237.5" stroke="#444" stroke-width="1.1"/>
<path d="M222.6 203.4L231 203.6L236 205.8L239 207.6L236 210.0L229 211.4L222.6 209.6Z" fill="#a4a4a4"/>
<path d="M224.5 205.6L233 206.4L238.5 207.8L233.5 209.8L224.5 209.6Z" fill="#7a7a7a"/>
<path d="M231 207.8H237.5" stroke="#444" stroke-width="1.1"/>
<path d="M222.6 211.2L231 211.4L236 213.6L239 215.4L236 217.8L229 219.2L222.6 217.4Z" fill="#a4a4a4"/>
<path d="M224.5 213.4L233 214.2L238.5 215.6L233.5 217.6L224.5 217.4Z" fill="#7a7a7a"/>
<path d="M231 215.6H237.5" stroke="#444" stroke-width="1.1"/>
<path d="M222.6 218.3L231 218.5L236 220.7L239 222.5L236 224.9L229 226.3L222.6 224.5Z" fill="#a4a4a4"/>
<path d="M224.5 220.5L233 221.3L238.5 222.7L233.5 224.7L224.5 224.5Z" fill="#7a7a7a"/>
<path d="M231 222.7H237.5" stroke="#444" stroke-width="1.1"/>
<path d="M222.6 226.1L231 226.3L236 228.5L239 230.3L236 232.7L229 234.1L222.6 232.3Z" fill="#a4a4a4"/>
<path d="M224.5 228.3L233 229.1L238.5 230.5L233.5 232.5L224.5 232.3Z" fill="#7a7a7a"/>
<path d="M231 230.5H237.5" stroke="#444" stroke-width="1.1"/>
<path d="M222.6 233.8L231 234.0L236 236.2L239 238.0L236 240.4L229 241.8L222.6 240.0Z" fill="#a4a4a4"/>
<path d="M224.5 236.0L233 236.8L238.5 238.2L233.5 240.2L224.5 240.0Z" fill="#7a7a7a"/>
<path d="M231 238.2H237.5" stroke="#444" stroke-width="1.1"/>
<path d="M222.6 241.3L231 241.5L236 243.7L239 245.5L236 247.9L229 249.3L222.6 247.5Z" fill="#a4a4a4"/>
<path d="M224.5 243.5L233 244.3L238.5 245.7L233.5 247.7L224.5 247.5Z" fill="#7a7a7a"/>
<path d="M231 245.7H237.5" stroke="#444" stroke-width="1.1"/>
<rect x="239.2" y="197.8" width="5.8" height="5.8" fill="#1b3560"/><text x="242.1" y="202.0" text-anchor="middle" style="font-size:3px;fill:#dfe6f0;font-family:Liberation Serif;font-style:italic">X</text>
<rect x="239.2" y="205.3" width="5.8" height="5.8" fill="#1b3560"/><text x="242.1" y="209.5" text-anchor="middle" style="font-size:3px;fill:#dfe6f0;font-family:Liberation Serif;font-style:italic">X</text>
<rect x="239.2" y="213.1" width="5.8" height="5.8" fill="#1b3560"/><text x="242.1" y="217.3" text-anchor="middle" style="font-size:3px;fill:#dfe6f0;font-family:Liberation Serif;font-style:italic">X</text>
<rect x="239.2" y="220.7" width="5.8" height="5.8" fill="#1b3560"/><text x="242.1" y="224.9" text-anchor="middle" style="font-size:3px;fill:#dfe6f0;font-family:Liberation Serif;font-style:italic">X</text>
<rect x="239.2" y="228.4" width="5.8" height="5.8" fill="#1b3560"/><text x="242.1" y="232.6" text-anchor="middle" style="font-size:3px;fill:#dfe6f0;font-family:Liberation Serif;font-style:italic">X</text>
<rect x="239.2" y="235.9" width="5.8" height="5.8" fill="#1b3560"/><text x="242.1" y="240.1" text-anchor="middle" style="font-size:3px;fill:#dfe6f0;font-family:Liberation Serif;font-style:italic">X</text>
<rect x="239.2" y="243.6" width="5.8" height="5.8" fill="#1b3560"/><text x="242.1" y="247.8" text-anchor="middle" style="font-size:3px;fill:#dfe6f0;font-family:Liberation Serif;font-style:italic">X</text>
<rect x="239.2" y="251.2" width="5.8" height="5.8" fill="#1b3560"/><text x="242.1" y="255.4" text-anchor="middle" style="font-size:3px;fill:#dfe6f0;font-family:Liberation Serif;font-style:italic">X</text>
<rect x="239.2" y="259.0" width="5.8" height="5.8" fill="#1b3560"/><text x="242.1" y="263.2" text-anchor="middle" style="font-size:3px;fill:#dfe6f0;font-family:Liberation Serif;font-style:italic">X</text>
<text x="203.3" y="222.2" style="font-size:7.2px;font-style:italic;font-family:Liberation Serif;fill:#333" textLength="10.4" lengthAdjust="spacingAndGlyphs">X<tspan style="font-size:4px" dy="1">UV</tspan></text><text x="213.2" y="222.2" style="font-size:5px;fill:#333">:</text>
<text x="212.9" y="256.1" style="font-size:5px;font-style:italic;font-family:Liberation Serif;fill:#333" textLength="22.8" lengthAdjust="spacingAndGlyphs">RID ∈ {1,2}</text>
<text x="211.2" y="263.6" style="font-size:5px;font-style:italic;font-family:Liberation Serif;fill:#333" textLength="26.5" lengthAdjust="spacingAndGlyphs">FID ∈ {1,2,3}</text>
<text x="255" y="198.3" style="font-size:5.6px;fill:#333" textLength="31" lengthAdjust="spacingAndGlyphs">Classification</text>
<rect x="255" y="200.4" width="29.8" height="24.8" fill="#fff" stroke="#444" stroke-width="0.8"/><path d="M259.5 210.3L264.8 204.1M259.5 210.3L264.8 208.3M259.5 210.3L264.8 212.8M259.5 210.3L264.8 217.3M259.5 210.3L264.8 221.5M259.5 215.3L264.8 204.1M259.5 215.3L264.8 208.3M259.5 215.3L264.8 212.8M259.5 215.3L264.8 217.3M259.5 215.3L264.8 221.5M259.5 219.7L264.8 204.1M259.5 219.7L264.8 208.3M259.5 219.7L264.8 212.8M259.5 219.7L264.8 217.3M259.5 219.7L264.8 221.5M264.8 204.1L270.5 205.4M264.8 204.1L270.5 210.3M264.8 204.1L270.5 215.3M264.8 204.1L270.5 220.2M264.8 208.3L270.5 205.4M264.8 208.3L270.5 210.3M264.8 208.3L270.5 215.3M264.8 208.3L270.5 220.2M264.8 212.8L270.5 205.4M264.8 212.8L270.5 210.3M264.8 212.8L270.5 215.3M264.8 212.8L270.5 220.2M264.8 217.3L270.5 205.4M264.8 217.3L270.5 210.3M264.8 217.3L270.5 215.3M264.8 217.3L270.5 220.2M264.8 221.5L270.5 205.4M264.8 221.5L270.5 210.3M264.8 221.5L270.5 215.3M264.8 221.5L270.5 220.2M270.5 205.4L275.9 210.3M270.5 205.4L275.9 215.3M270.5 205.4L275.9 219.7M270.5 210.3L275.9 210.3M270.5 210.3L275.9 215.3M270.5 210.3L275.9 219.7M270.5 215.3L275.9 210.3M270.5 215.3L275.9 215.3M270.5 215.3L275.9 219.7M270.5 220.2L275.9 210.3M270.5 220.2L275.9 215.3M270.5 220.2L275.9 219.7M275.9 210.3L281.8 215.3M275.9 215.3L281.8 215.3M275.9 219.7L281.8 215.3" stroke="#c8c8c8" stroke-width="0.3" fill="none"/><circle cx="259.5" cy="210.3" r="1.3" fill="#fff" stroke="#555" stroke-width="0.45"/><circle cx="259.5" cy="215.3" r="1.3" fill="#fff" stroke="#555" stroke-width="0.45"/><circle cx="259.5" cy="219.7" r="1.3" fill="#fff" stroke="#555" stroke-width="0.45"/><circle cx="264.8" cy="204.1" r="1.3" fill="#fff" stroke="#555" stroke-width="0.45"/><circle cx="264.8" cy="208.3" r="1.3" fill="#fff" stroke="#555" stroke-width="0.45"/><circle cx="264.8" cy="212.8" r="1.3" fill="#fff" stroke="#555" stroke-width="0.45"/><circle cx="264.8" cy="217.3" r="1.3" fill="#fff" stroke="#555" stroke-width="0.45"/><circle cx="264.8" cy="221.5" r="1.3" fill="#fff" stroke="#555" stroke-width="0.45"/><circle cx="270.5" cy="205.4" r="1.3" fill="#fff" stroke="#555" stroke-width="0.45"/><circle cx="270.5" cy="210.3" r="1.3" fill="#fff" stroke="#555" stroke-width="0.45"/><circle cx="270.5" cy="215.3" r="1.3" fill="#fff" stroke="#555" stroke-width="0.45"/><circle cx="270.5" cy="220.2" r="1.3" fill="#fff" stroke="#555" stroke-width="0.45"/><circle cx="275.9" cy="210.3" r="1.3" fill="#fff" stroke="#555" stroke-width="0.45"/><circle cx="275.9" cy="215.3" r="1.3" fill="#fff" stroke="#555" stroke-width="0.45"/><circle cx="275.9" cy="219.7" r="1.3" fill="#fff" stroke="#555" stroke-width="0.45"/><circle cx="281.8" cy="215.3" r="1.3" fill="#fff" stroke="#555" stroke-width="0.45"/>
<path d="M284.7 213.3H299" stroke="#c040c0" stroke-width="0.8"/><path d="M298.5 211.6L302 213.3L298.5 215Z" fill="#c040c0"/>
<text x="286.3" y="210.5" style="font-size:4.6px;font-style:italic;font-family:Liberation Serif;fill:#c040c0" textLength="12.4" lengthAdjust="spacingAndGlyphs">Acute</text>
<text x="305.7" y="211.7" style="font-size:7.4px;font-style:italic;font-family:Liberation Serif;fill:#c552c5" textLength="14.7" lengthAdjust="spacingAndGlyphs">Acute</text>
<text x="306.4" y="218.6" style="font-size:7.4px;font-style:italic;font-family:Liberation Serif;fill:#c552c5" textLength="38" lengthAdjust="spacingAndGlyphs">Inflammation</text>
<path d="M269.1 225.2V242" stroke="#111" stroke-width="0.9"/><path d="M267.4 241.5L269.1 245.4L270.8 241.5Z" fill="#111"/>
<text transform="translate(266.9,242) rotate(-90)" style="font-size:4.4px;font-weight:bold;fill:#222" textLength="14.5" lengthAdjust="spacingAndGlyphs">hsCRP</text>
<text x="266.6" y="253.6" style="font-size:7px;font-style:italic;font-family:Liberation Serif;fill:#333" textLength="10" lengthAdjust="spacingAndGlyphs">X<tspan style="font-size:4px" dy="1">UV</tspan></text>
<rect x="278.1" y="238.4" width="29.6" height="24.8" fill="#fff" stroke="#444" stroke-width="0.8"/><path d="M282.5 248.3L287.9 242.1M282.5 248.3L287.9 246.3M282.5 248.3L287.9 250.8M282.5 248.3L287.9 255.3M282.5 248.3L287.9 259.5M282.5 253.3L287.9 242.1M282.5 253.3L287.9 246.3M282.5 253.3L287.9 250.8M282.5 253.3L287.9 255.3M282.5 253.3L287.9 259.5M282.5 257.7L287.9 242.1M282.5 257.7L287.9 246.3M282.5 257.7L287.9 250.8M282.5 257.7L287.9 255.3M282.5 257.7L287.9 259.5M287.9 242.1L293.5 243.4M287.9 242.1L293.5 248.3M287.9 242.1L293.5 253.3M287.9 242.1L293.5 258.2M287.9 246.3L293.5 243.4M287.9 246.3L293.5 248.3M287.9 246.3L293.5 253.3M287.9 246.3L293.5 258.2M287.9 250.8L293.5 243.4M287.9 250.8L293.5 248.3M287.9 250.8L293.5 253.3M287.9 250.8L293.5 258.2M287.9 255.3L293.5 243.4M287.9 255.3L293.5 248.3M287.9 255.3L293.5 253.3M287.9 255.3L293.5 258.2M287.9 259.5L293.5 243.4M287.9 259.5L293.5 248.3M287.9 259.5L293.5 253.3M287.9 259.5L293.5 258.2M293.5 243.4L298.8 248.3M293.5 243.4L298.8 253.3M293.5 243.4L298.8 257.7M293.5 248.3L298.8 248.3M293.5 248.3L298.8 253.3M293.5 248.3L298.8 257.7M293.5 253.3L298.8 248.3M293.5 253.3L298.8 253.3M293.5 253.3L298.8 257.7M293.5 258.2L298.8 248.3M293.5 258.2L298.8 253.3M293.5 258.2L298.8 257.7M298.8 248.3L304.7 253.3M298.8 253.3L304.7 253.3M298.8 257.7L304.7 253.3" stroke="#c8c8c8" stroke-width="0.3" fill="none"/><circle cx="282.5" cy="248.3" r="1.3" fill="#fff" stroke="#555" stroke-width="0.45"/><circle cx="282.5" cy="253.3" r="1.3" fill="#fff" stroke="#555" stroke-width="0.45"/><circle cx="282.5" cy="257.7" r="1.3" fill="#fff" stroke="#555" stroke-width="0.45"/><circle cx="287.9" cy="242.1" r="1.3" fill="#fff" stroke="#555" stroke-width="0.45"/><circle cx="287.9" cy="246.3" r="1.3" fill="#fff" stroke="#555" stroke-width="0.45"/><circle cx="287.9" cy="250.8" r="1.3" fill="#fff" stroke="#555" stroke-width="0.45"/><circle cx="287.9" cy="255.3" r="1.3" fill="#fff" stroke="#555" stroke-width="0.45"/><circle cx="287.9" cy="259.5" r="1.3" fill="#fff" stroke="#555" stroke-width="0.45"/><circle cx="293.5" cy="243.4" r="1.3" fill="#fff" stroke="#555" stroke-width="0.45"/><circle cx="293.5" cy="248.3" r="1.3" fill="#fff" stroke="#555" stroke-width="0.45"/><circle cx="293.5" cy="253.3" r="1.3" fill="#fff" stroke="#555" stroke-width="0.45"/><circle cx="293.5" cy="258.2" r="1.3" fill="#fff" stroke="#555" stroke-width="0.45"/><circle cx="298.8" cy="248.3" r="1.3" fill="#fff" stroke="#555" stroke-width="0.45"/><circle cx="298.8" cy="253.3" r="1.3" fill="#fff" stroke="#555" stroke-width="0.45"/><circle cx="298.8" cy="257.7" r="1.3" fill="#fff" stroke="#555" stroke-width="0.45"/><circle cx="304.7" cy="253.3" r="1.3" fill="#fff" stroke="#555" stroke-width="0.45"/>
<path d="M306.4 250.8H313.5" stroke="#111" stroke-width="1.3"/><path d="M313 248.9L317 250.8L313 252.7Z" fill="#111"/>
<text x="319.6" y="252.4" style="font-size:7.2px;font-style:italic;font-family:Liberation Serif;fill:#222" textLength="14.7" lengthAdjust="spacingAndGlyphs">mg/L</text>
<text x="277" y="269.3" style="font-size:5.6px;fill:#333" textLength="31.8" lengthAdjust="spacingAndGlyphs">Quantification</text>
<!-- /CDE -->
<!-- F -->
<!-- ===== panel f ===== -->

<text x="365.8" y="39.4" style="font-size:12px;font-weight:bold;fill:#111">f</text>
<text x="371" y="37.8" style="font-size:7px;font-family:Liberation Serif;fill:#333" textLength="28.4" lengthAdjust="spacingAndGlyphs">On-chip NAAT</text>
<path d="M371.1 81.8L385.4 88.9L399.7 79.9L399.7 82.10000000000001L385.4 91.10000000000001L371.1 84.0Z" fill="#c4741e"/><path d="M371.1 81.8L383 75.3L399.7 79.9L385.4 88.9Z" fill="#eb9a32"/>
<path d="M370.5 70.8L385.4 76.8L400.4 69.5L400.4 71.3L385.4 78.6L370.5 72.6Z" fill="#c4741e"/><path d="M370.5 70.8L383 66.2L400.4 69.5L385.4 76.8Z" fill="#e9952c"/>
<path d="M369.8 65.2L385.4 71L400.4 63.9L400.4 65.3L385.4 72.4L369.8 66.60000000000001Z" fill="#6a66c0"/><path d="M369.8 65.2L382.8 59.4L400.4 63.9L385.4 71Z" fill="#8583e0"/>
<ellipse cx="379" cy="66" rx="1.6" ry="1" fill="#dde"/><ellipse cx="387" cy="66" rx="1.6" ry="1" fill="#dde"/>
<path d="M369.2 56.6L386 62.6L401 56L401 57.2L386 63.800000000000004L369.2 57.800000000000004Z" fill="#c87a74"/><path d="M369.2 56.6L383.5 51.4L401 56L386 62.6Z" fill="#e3938c"/>
<ellipse cx="381" cy="57" rx="1.5" ry="0.9" fill="#fff"/><ellipse cx="388" cy="57.5" rx="1.3" ry="0.8" fill="#fff"/>
<path d="M367.9 47.5L385.4 53L401.7 46.5L401.7 47.7L385.4 54.2L367.9 48.7Z" fill="#6f70c0"/><path d="M367.9 47.5L382.8 42L401.7 46.5L385.4 53Z" fill="#8d8fe0"/>
<path d="M367.9 45.4L385.4 50.8L401.7 44.8L401.7 45.9L385.4 51.9L367.9 46.5Z" fill="#666"/><path d="M367.9 45.4L382.8 40.4L401.7 44.8L385.4 50.8Z" fill="#8c8c8c"/>
<path d="M401.5 40.2H403.4V94.2H401.5M403.4 62.3H406.9" stroke="#555" stroke-width="0.7" fill="none"/>
<path d="M408.6 43L417.5 47L425.8 42.5L425.8 44.7L417.5 49.2L408.6 45.2Z" fill="#666"/><path d="M408.6 43L417 38.6L425.8 42.5L417.5 47Z" fill="#a8a8a8"/>
<path d="M406.6 50.5L418 55L428.5 50L428.5 52.4L418 57.4L406.6 52.9Z" fill="#5a5a5a"/><path d="M406.6 50.5L417 45.5L428.5 50L418 55Z" fill="#8a8a8a"/>
<path d="M408 55.8L418 59.6L427 55.6L427 56.800000000000004L418 60.800000000000004L408 57.0Z" fill="#8a8a70"/><path d="M408 55.8L417 52L427 55.6L418 59.6Z" fill="#bfc08a"/>
<path d="M411.5 61.6L417.5 59.6L424 61.8L418 64.3Z" fill="#111"/>
<path d="M408 60.5L417 57L427 60.5L418 65Z" fill="none" stroke="#bbb" stroke-width="0.4"/>
<path d="M406.2 73L417 68.2L429 72.5V86L418 90.5L406.2 86Z" fill="#8a8a8a"/>
<path d="M406.2 73L418 77.5L429 72.5L417 68.2Z" fill="#a4a4a4"/>
<path d="M408.5 76L417 79.5V88.5L408.5 85Z" fill="#5e5e5e"/><path d="M419 79.5L427 76V85L419 88.5Z" fill="#6a6a6a"/>
<path d="M414 69.5V66M421 69.5V66" stroke="#6a9" stroke-width="0.5"/>
<path d="M413.4 89.6L417.5 88L421.6 89.6V92L417.5 93.5L413.4 92Z" fill="#111"/>
<path d="M419.5 38.5V34.7H430.4V58.5H433.5M430.4 42.8H457" stroke="#111" stroke-width="1" fill="none"/>
<path d="M456.5 41L460.2 42.8L456.5 44.6Z M433 56.8L436.2 58.5L433 60.2Z" fill="#111"/>
<text x="432" y="39.6" style="font-size:7px;font-family:Liberation Serif;fill:#333" textLength="24" lengthAdjust="spacingAndGlyphs">Visualization</text>
<text x="432" y="54.2" style="font-size:7px;font-family:Liberation Serif;fill:#3a5a8a" textLength="29.7" lengthAdjust="spacingAndGlyphs">Time-series data</text>
<rect x="460.8" y="34" width="27.2" height="17.7" fill="#23231f"/>
<rect x="461.8" y="35.0" width="5.8" height="7.6" fill="#3e3e34"/><rect x="462.9" y="35.7" width="1.2" height="1" fill="#8a8a70"/><rect x="463.6" y="36.0" width="1.2" height="1" fill="#8a8a70"/><rect x="462.1" y="37.6" width="1.2" height="1" fill="#8a8a70"/><rect x="465.9" y="40.2" width="1.2" height="1" fill="#8a8a70"/><rect x="465.2" y="36.4" width="1.2" height="1" fill="#8a8a70"/><rect x="464.2" y="36.8" width="1.2" height="1" fill="#8a8a70"/><rect x="468.5" y="35.0" width="5.8" height="7.6" fill="#3e3e34"/><rect x="469.3" y="35.7" width="1.2" height="1" fill="#8a8a70"/><rect x="469.5" y="41.0" width="1.2" height="1" fill="#8a8a70"/><rect x="472.2" y="40.2" width="1.2" height="1" fill="#8a8a70"/><rect x="472.1" y="36.3" width="1.2" height="1" fill="#8a8a70"/><rect x="469.9" y="39.1" width="1.2" height="1" fill="#8a8a70"/><rect x="471.8" y="40.6" width="1.2" height="1" fill="#8a8a70"/><rect x="475.2" y="35.0" width="5.8" height="7.6" fill="#3e3e34"/><rect x="479.2" y="35.6" width="1.2" height="1" fill="#8a8a70"/><rect x="477.9" y="39.4" width="1.2" height="1" fill="#8a8a70"/><rect x="477.5" y="36.2" width="1.2" height="1" fill="#8a8a70"/><rect x="477.3" y="35.6" width="1.2" height="1" fill="#8a8a70"/><rect x="479.4" y="40.6" width="1.2" height="1" fill="#8a8a70"/><rect x="477.7" y="37.0" width="1.2" height="1" fill="#8a8a70"/><rect x="481.9" y="35.0" width="5.8" height="7.6" fill="#3e3e34"/><rect x="486.0" y="38.7" width="1.2" height="1" fill="#8a8a70"/><rect x="485.9" y="40.5" width="1.2" height="1" fill="#8a8a70"/><rect x="484.2" y="37.7" width="1.2" height="1" fill="#8a8a70"/><rect x="484.6" y="37.8" width="1.2" height="1" fill="#8a8a70"/><rect x="482.6" y="37.0" width="1.2" height="1" fill="#8a8a70"/><rect x="485.6" y="35.3" width="1.2" height="1" fill="#8a8a70"/><rect x="461.8" y="43.5" width="5.8" height="7.6" fill="#3e3e34"/><rect x="462.0" y="47.6" width="1.2" height="1" fill="#8a8a70"/><rect x="463.1" y="47.0" width="1.2" height="1" fill="#8a8a70"/><rect x="463.9" y="45.7" width="1.2" height="1" fill="#8a8a70"/><rect x="466.3" y="44.8" width="1.2" height="1" fill="#8a8a70"/><rect x="463.7" y="44.8" width="1.2" height="1" fill="#8a8a70"/><rect x="464.6" y="45.3" width="1.2" height="1" fill="#8a8a70"/><rect x="468.5" y="43.5" width="5.8" height="7.6" fill="#3e3e34"/><rect x="470.1" y="48.4" width="1.2" height="1" fill="#8a8a70"/><rect x="469.9" y="47.1" width="1.2" height="1" fill="#8a8a70"/><rect x="472.6" y="44.2" width="1.2" height="1" fill="#8a8a70"/><rect x="468.8" y="45.0" width="1.2" height="1" fill="#8a8a70"/><rect x="471.9" y="47.5" width="1.2" height="1" fill="#8a8a70"/><rect x="469.6" y="45.7" width="1.2" height="1" fill="#8a8a70"/><rect x="475.2" y="43.5" width="5.8" height="7.6" fill="#3e3e34"/><rect x="476.0" y="46.5" width="1.2" height="1" fill="#8a8a70"/><rect x="475.4" y="48.0" width="1.2" height="1" fill="#8a8a70"/><rect x="479.2" y="49.7" width="1.2" height="1" fill="#8a8a70"/><rect x="478.5" y="49.7" width="1.2" height="1" fill="#8a8a70"/><rect x="475.3" y="45.4" width="1.2" height="1" fill="#8a8a70"/><rect x="479.5" y="48.5" width="1.2" height="1" fill="#8a8a70"/><rect x="481.9" y="43.5" width="5.8" height="7.6" fill="#3e3e34"/><rect x="483.7" y="49.6" width="1.2" height="1" fill="#8a8a70"/><rect x="484.7" y="48.8" width="1.2" height="1" fill="#8a8a70"/><rect x="483.2" y="44.7" width="1.2" height="1" fill="#8a8a70"/><rect x="483.9" y="44.4" width="1.2" height="1" fill="#8a8a70"/><rect x="483.6" y="49.8" width="1.2" height="1" fill="#8a8a70"/><rect x="483.4" y="43.6" width="1.2" height="1" fill="#8a8a70"/>
<path d="M488 42.8H491" stroke="#111" stroke-width="0.8"/><path d="M490.5 41.5L493 42.8L490.5 44.1Z" fill="#111"/>
<rect x="492.9" y="34" width="31.2" height="28.5" fill="#505050"/><rect x="492.9" y="34" width="31.2" height="8" fill="#6a6a6a" opacity="0.6"/>
<g clip-path="url(#phclip)"><path d="M506.6 49.6l7.5 -0.1" stroke="#3a3a3a" stroke-width="1.4"/><path d="M498.7 56.2l4.9 0.9" stroke="#666" stroke-width="0.7"/><path d="M502.1 36.9l6.9 0.3" stroke="#7a7a7a" stroke-width="1.0"/><path d="M506.6 54.5l5.9 -1.5" stroke="#666" stroke-width="1.1"/><path d="M494.8 39.6l3.5 0.8" stroke="#7a7a7a" stroke-width="0.9"/><path d="M510.7 39.8l3.4 -0.0" stroke="#999" stroke-width="1.2"/><path d="M506.7 42.0l8.0 0.6" stroke="#7a7a7a" stroke-width="0.9"/><path d="M499.9 42.3l2.4 -0.3" stroke="#7a7a7a" stroke-width="1.4"/><path d="M504.6 60.4l7.1 -0.9" stroke="#7a7a7a" stroke-width="1.4"/><path d="M494.6 44.6l6.3 -1.3" stroke="#3a3a3a" stroke-width="1.2"/><path d="M516.4 41.8l2.5 -1.5" stroke="#999" stroke-width="1.0"/><path d="M520.7 38.1l6.2 -1.3" stroke="#7a7a7a" stroke-width="1.3"/><path d="M498.3 49.6l4.7 1.5" stroke="#2e2e2e" stroke-width="1.3"/><path d="M505.6 44.9l4.4 -1.5" stroke="#2e2e2e" stroke-width="1.4"/><path d="M522.2 50.5l8.0 -0.9" stroke="#7a7a7a" stroke-width="1.0"/><path d="M518.6 51.8l2.6 -0.9" stroke="#2e2e2e" stroke-width="0.8"/><path d="M516.2 43.4l3.8 -1.3" stroke="#7a7a7a" stroke-width="0.8"/><path d="M512.1 34.9l4.2 -0.1" stroke="#666" stroke-width="1.5"/><path d="M507.5 50.0l7.2 0.4" stroke="#2e2e2e" stroke-width="0.9"/><path d="M499.9 51.0l6.4 0.7" stroke="#2e2e2e" stroke-width="1.4"/><path d="M498.9 60.2l7.3 -1.3" stroke="#666" stroke-width="0.6"/><path d="M496.3 48.3l3.5 -0.7" stroke="#3a3a3a" stroke-width="1.3"/><path d="M510.9 42.4l3.1 -1.1" stroke="#7a7a7a" stroke-width="1.0"/><path d="M512.6 51.1l2.4 1.3" stroke="#2e2e2e" stroke-width="0.8"/><path d="M493.5 41.8l4.7 -1.4" stroke="#7a7a7a" stroke-width="0.9"/><path d="M508.9 60.8l2.6 1.2" stroke="#2e2e2e" stroke-width="1.5"/><path d="M512.7 53.2l5.5 0.3" stroke="#2e2e2e" stroke-width="1.4"/><path d="M507.2 44.2l3.9 -1.4" stroke="#7a7a7a" stroke-width="1.2"/><path d="M507.5 54.2l3.9 -1.3" stroke="#7a7a7a" stroke-width="1.1"/><path d="M515.1 58.8l6.4 0.9" stroke="#2e2e2e" stroke-width="1.4"/><path d="M503.6 53.0l7.4 1.3" stroke="#3a3a3a" stroke-width="0.6"/><path d="M508.0 34.9l6.0 0.2" stroke="#3a3a3a" stroke-width="1.1"/><path d="M495.4 51.8l8.0 0.7" stroke="#3a3a3a" stroke-width="0.9"/><path d="M515.1 50.2l4.6 -1.2" stroke="#666" stroke-width="1.3"/><path d="M493.9 50.7l4.9 1.4" stroke="#2e2e2e" stroke-width="0.7"/><path d="M516.4 52.3l4.9 -0.4" stroke="#7a7a7a" stroke-width="0.7"/><path d="M511.4 48.5l6.5 0.5" stroke="#999" stroke-width="1.0"/><path d="M519.8 43.3l6.0 0.4" stroke="#2e2e2e" stroke-width="1.3"/><path d="M515.6 39.9l3.3 0.2" stroke="#2e2e2e" stroke-width="0.9"/><path d="M497.1 47.9l7.0 0.6" stroke="#7a7a7a" stroke-width="1.5"/></g>
<defs><clipPath id="phclip"><rect x="492.9" y="34" width="31.2" height="28.5"/></clipPath></defs>
<text x="494" y="67.3" style="font-size:8.2px;font-family:Liberation Serif;fill:#7a5aa0" textLength="30" lengthAdjust="spacingAndGlyphs">Early prediction</text>
<rect x="491.8" y="69" width="32.9" height="27.5" fill="#f6e6f6" stroke="#9a6ac0" stroke-width="0.6" stroke-dasharray="0.8,0.8"/>
<rect x="496.9" y="71.2" width="26" height="19.5" fill="#fff"/>
<rect x="496.9" y="83.5" width="13.7" height="7.2" fill="#ecd0d0"/>
<path d="M510.6 90.7V83.5C514 83 516 80 518 77C520 74.5 521.5 73.8 522.9 73.4V90.7Z" fill="#3b9fe0"/>
<text x="498.5" y="76" style="font-size:3.6px;font-family:Liberation Serif;fill:#555">15 to 60</text>
<path d="M490.5 90H488" stroke="#111" stroke-width="0.6"/>
<rect x="485.3" y="71.4" width="2.9" height="3.4" fill="#6a4aa0"/>
<rect x="485.3" y="75.7" width="2.9" height="3.4" fill="#6a4aa0"/>
<rect x="485.3" y="80.0" width="2.9" height="3.4" fill="#6a4aa0"/>
<rect x="485.3" y="84.3" width="2.9" height="3.4" fill="#6a4aa0"/>
<rect x="485.3" y="88.6" width="2.9" height="3.4" fill="#6a4aa0"/>
<path d="M457.5 56.9C468 56.9 470 77.1 484.5 83.4M457.5 56.9C468 56.9 470 79.3 484.5 85.4M457.5 56.9C468 56.9 470 78.6 484.5 85.2M457.5 61.6C468 61.6 470 69.4 484.5 80.7M457.5 61.6C468 61.6 470 81.3 484.5 82.5M457.5 61.6C468 61.6 470 80.7 484.5 77.1M457.5 66.3C468 66.3 470 75.1 484.5 78.5M457.5 66.3C468 66.3 470 76.1 484.5 81.7M457.5 66.3C468 66.3 470 69.2 484.5 78.2M457.5 71.0C468 71.0 470 72.6 484.5 85.2M457.5 71.0C468 71.0 470 79.0 484.5 77.6M457.5 71.0C468 71.0 470 79.4 484.5 77.4M457.5 75.7C468 75.7 470 77.0 484.5 77.3M457.5 75.7C468 75.7 470 69.0 484.5 84.7M457.5 75.7C468 75.7 470 71.7 484.5 78.2M457.5 80.4C468 80.4 470 81.8 484.5 84.7M457.5 80.4C468 80.4 470 72.8 484.5 85.6M457.5 80.4C468 80.4 470 76.0 484.5 82.8M457.5 85.1C468 85.1 470 71.7 484.5 85.4M457.5 85.1C468 85.1 470 78.0 484.5 85.7M457.5 85.1C468 85.1 470 80.6 484.5 79.0M457.5 89.8C468 89.8 470 73.7 484.5 77.7M457.5 89.8C468 89.8 470 70.9 484.5 76.7M457.5 89.8C468 89.8 470 72.9 484.5 82.0" stroke="#9a9a9a" stroke-width="0.25" fill="none"/>
<path d="M437.5 56.9H456" stroke="#aaa" stroke-width="0.8"/>
<rect x="435.8" y="55.3" width="2.4" height="3.2" fill="#f0c040"/>
<rect x="445.3" y="55.3" width="2.4" height="3.2" fill="#3a6ec0"/>
<rect x="454.9" y="55.3" width="2.4" height="3.2" fill="#5a9a4a"/>
<path d="M437.5 61.6H456" stroke="#aaa" stroke-width="0.8"/>
<rect x="435.8" y="60.0" width="2.4" height="3.2" fill="#f0c040"/>
<rect x="445.3" y="60.0" width="2.4" height="3.2" fill="#3a6ec0"/>
<rect x="454.9" y="60.0" width="2.4" height="3.2" fill="#5a9a4a"/>
<path d="M437.5 66.3H456" stroke="#aaa" stroke-width="0.8"/>
<rect x="435.8" y="64.7" width="2.4" height="3.2" fill="#f0c040"/>
<rect x="445.3" y="64.7" width="2.4" height="3.2" fill="#3a6ec0"/>
<rect x="454.9" y="64.7" width="2.4" height="3.2" fill="#5a9a4a"/>
<path d="M437.5 71.0H456" stroke="#aaa" stroke-width="0.8"/>
<rect x="435.8" y="69.4" width="2.4" height="3.2" fill="#f0c040"/>
<rect x="445.3" y="69.4" width="2.4" height="3.2" fill="#3a6ec0"/>
<rect x="454.9" y="69.4" width="2.4" height="3.2" fill="#5a9a4a"/>
<path d="M437.5 75.7H456" stroke="#aaa" stroke-width="0.8"/>
<rect x="435.8" y="74.1" width="2.4" height="3.2" fill="#f0c040"/>
<rect x="445.3" y="74.1" width="2.4" height="3.2" fill="#3a6ec0"/>
<rect x="454.9" y="74.1" width="2.4" height="3.2" fill="#5a9a4a"/>
<path d="M437.5 80.4H456" stroke="#aaa" stroke-width="0.8"/>
<rect x="435.8" y="78.8" width="2.4" height="3.2" fill="#f0c040"/>
<rect x="445.3" y="78.8" width="2.4" height="3.2" fill="#3a6ec0"/>
<rect x="454.9" y="78.8" width="2.4" height="3.2" fill="#5a9a4a"/>
<path d="M437.5 85.1H456" stroke="#aaa" stroke-width="0.8"/>
<rect x="435.8" y="83.5" width="2.4" height="3.2" fill="#f0c040"/>
<rect x="445.3" y="83.5" width="2.4" height="3.2" fill="#3a6ec0"/>
<rect x="454.9" y="83.5" width="2.4" height="3.2" fill="#5a9a4a"/>
<path d="M437.5 89.8H456" stroke="#aaa" stroke-width="0.8"/>
<rect x="435.8" y="88.2" width="2.4" height="3.2" fill="#f0c040"/>
<rect x="445.3" y="88.2" width="2.4" height="3.2" fill="#3a6ec0"/>
<rect x="454.9" y="88.2" width="2.4" height="3.2" fill="#5a9a4a"/>
<text x="453.7" y="94.5" style="font-size:6.6px;font-family:Liberation Serif;fill:#333" textLength="27.3" lengthAdjust="spacingAndGlyphs">Neural network</text>
<!-- /F -->
<!-- GH -->
<!-- ===== panel g ===== -->
<text x="364.2" y="111.6" style="font-size:12px;font-weight:bold;fill:#111">g</text>
<text x="374.3" y="111.5" style="font-size:7.2px;fill:#222" textLength="78" lengthAdjust="spacingAndGlyphs">Swab specimen inactivation</text>
<path d="M372.5 122C372 117 376 114.6 380.5 114.9C385 115.2 388 118 388.5 121.5L389.2 125.5L387 126.2L387.5 129.5L384 130.8L376 130.8C373.5 128 372.8 125 372.5 122Z" fill="#f6dcd4"/>
<path d="M380.2 117.5C383 117 385 118.5 385.5 121L386.5 124.5L384 124.8V130.8H381.3V125C380 123 379.5 120 380.2 117.5Z" fill="#d8503c"/>
<path d="M385 122.5L391 125.2" stroke="#c44" stroke-width="0.6"/>
<path d="M394.1 124.6H401.8M413.5 124.6H421.2" stroke="#5a5a5a" stroke-width="1"/>
<path d="M406.2 113.5V126" stroke="#9ab" stroke-width="0.6"/>
<path d="M403.8 119.5H408.7V129L406.3 133L403.8 129Z" fill="#a8d2ea"/>
<path d="M403.8 125H408.7V129L406.3 133L403.8 129Z" fill="#5fa9d4"/>
<path d="M424.3 115.5L425.8 118" stroke="#9ab" stroke-width="0.6"/>
<path d="M423.9 119.5H429.5V130.5L426.7 133L423.9 130.5Z" fill="#a8d2ea"/>
<path d="M423.9 125.5H429.5V130.5L426.7 133L423.9 130.5Z" fill="#6ab0d8"/>
<path d="M430 131.2H437" stroke="#cde" stroke-width="0.4"/>
<circle cx="445.5" cy="122.5" r="8.3" fill="#e1ebf2" stroke="#d0dde6" stroke-width="0.5"/>
<path d="M441 117V128M444 116V129M447 117V127M450 118V126" stroke="#9fb6c8" stroke-width="0.5" stroke-dasharray="1,0.6"/>
<text x="374" y="142.2" style="font-size:6.8px;fill:#222" textLength="33.3" lengthAdjust="spacingAndGlyphs">RNA sensing</text>
<path d="M373.3 148.1L378.9 142.6L408.7 144.7L408 151.6Z" fill="#b9bdc6"/>
<path d="M373.3 148.1L408 151.6V152.8L373.3 149.4Z" fill="#8a8e96"/>
<rect x="377.0" y="144.5" width="1.8" height="1" fill="#e4e8ee"/><rect x="380.3" y="144.7" width="1.8" height="1" fill="#e4e8ee"/><rect x="383.6" y="144.9" width="1.8" height="1" fill="#e4e8ee"/><rect x="386.9" y="145.2" width="1.8" height="1" fill="#e4e8ee"/><rect x="390.2" y="145.4" width="1.8" height="1" fill="#e4e8ee"/><rect x="393.5" y="145.6" width="1.8" height="1" fill="#e4e8ee"/><rect x="396.8" y="145.8" width="1.8" height="1" fill="#e4e8ee"/><rect x="400.1" y="146.0" width="1.8" height="1" fill="#e4e8ee"/><rect x="403.4" y="146.3" width="1.8" height="1" fill="#e4e8ee"/><rect x="375.5" y="146.5" width="1.8" height="1" fill="#e4e8ee"/><rect x="378.8" y="146.7" width="1.8" height="1" fill="#e4e8ee"/><rect x="382.1" y="146.9" width="1.8" height="1" fill="#e4e8ee"/><rect x="385.4" y="147.2" width="1.8" height="1" fill="#e4e8ee"/><rect x="388.7" y="147.4" width="1.8" height="1" fill="#e4e8ee"/><rect x="392.0" y="147.6" width="1.8" height="1" fill="#e4e8ee"/><rect x="395.3" y="147.8" width="1.8" height="1" fill="#e4e8ee"/><rect x="398.6" y="148.0" width="1.8" height="1" fill="#e4e8ee"/><rect x="401.9" y="148.3" width="1.8" height="1" fill="#e4e8ee"/><rect x="374.0" y="148.5" width="1.8" height="1" fill="#e4e8ee"/><rect x="377.3" y="148.7" width="1.8" height="1" fill="#e4e8ee"/><rect x="380.6" y="148.9" width="1.8" height="1" fill="#e4e8ee"/><rect x="383.9" y="149.2" width="1.8" height="1" fill="#e4e8ee"/><rect x="387.2" y="149.4" width="1.8" height="1" fill="#e4e8ee"/><rect x="390.5" y="149.6" width="1.8" height="1" fill="#e4e8ee"/><rect x="393.8" y="149.8" width="1.8" height="1" fill="#e4e8ee"/><rect x="397.1" y="150.0" width="1.8" height="1" fill="#e4e8ee"/><rect x="400.4" y="150.3" width="1.8" height="1" fill="#e4e8ee"/>
<path d="M408.7 149.5H417" stroke="#7ab070" stroke-width="0.5"/>
<path d="M417 148.5L422 143L442.7 144.5L442 150.3Z" fill="#6cc3cf"/>
<path d="M417 148.5L442 150.3V151.8L417 150Z" fill="#5a4a9a"/>
<path d="M421 147L427 141.5M428 147.5L434 142M435 148L441 142.5" stroke="#3aa0b0" stroke-width="1"/>
<text x="427" y="155" style="font-size:2.6px;fill:#666">gelMEDE</text>
<defs><linearGradient id="gbox" x1="0" x2="0" y1="0" y2="1"><stop offset="0" stop-color="#bcd6ec"/><stop offset="0.5" stop-color="#dfeaf4"/><stop offset="1" stop-color="#f4f7fa"/></linearGradient></defs>
<rect x="368.8" y="156" width="88.2" height="30" rx="3" fill="url(#gbox)" stroke="#d6e2ec" stroke-width="0.5"/>
<path d="M404 158V166" stroke="#9aa" stroke-width="0.3"/>
<path d="M371.7 173.5L379 167.7L399.4 169L398 175Z" fill="#6cc3cf"/><path d="M371.7 173.5L398 175V177.2L371.7 175.6Z" fill="#5a4a9a"/>
<path d="M375 173L381 167.5M382 173.5L388 168M389 174L395 168.5" stroke="#2f95a8" stroke-width="0.9"/>
<path d="M374 166V158M378 166V159M382 166V158M386 166V159M390 166V158" stroke="#aac" stroke-width="0.25"/>
<path d="M402.3 171.4H415.5" stroke="#111" stroke-width="1.1"/>
<text x="403" y="175" style="font-size:2.4px;fill:#333">Target RNA</text>
<path d="M417 175L425 166.3L453.4 167.5L452 177Z" fill="#6cc3cf"/><path d="M417 175L452 177V178.7L417 176.6Z" fill="#5a4a9a"/>
<path d="M421 174L428 166.5M429 174.5L436 167M437 175L444 167.5M445 175.5L451 168.5" stroke="#2f95a8" stroke-width="0.9"/>
<path d="M428 168L432 162L436 166L440 161L444 165" stroke="#888" stroke-width="0.3" fill="none"/>
<path d="M444 168L450 161" stroke="#e03a3a" stroke-width="0.9"/>
<path d="M445 171L449 169L452 171" stroke="#555" stroke-width="0.6" fill="none"/>
<text x="448" y="160" style="font-size:2.4px;fill:#223">eDNA</text>
<text x="377" y="183.8" style="font-size:2.4px;fill:#555">ssDNA reporter      MB-Biotinnel</text>
<text x="465.6" y="111.7" style="font-size:7.2px;fill:#222" textLength="37.6" lengthAdjust="spacingAndGlyphs">Deep learning</text>
<polyline points="464.3,128.7 465.0,133.2 465.7,129.3 466.5,130.2 467.2,130.5 467.9,130.6 468.6,122.3 469.4,129.9 470.1,128.8 470.8,126.3 471.5,133.3 472.3,131.2 473.0,131.6 473.7,130.9 474.4,128.3 475.2,131.9 475.9,130.9 476.6,130.1 477.3,129.0 478.0,129.8 478.8,129.7 479.5,131.7 480.2,112.7 480.9,129.7 481.7,123.2 482.4,131.0 483.1,131.0 483.8,120.7 484.6,129.0 485.3,130.7 486.0,129.9 486.7,126.4 487.4,130.0 488.2,129.0 488.9,128.9 489.6,128.7 490.3,131.0 491.1,130.2 491.8,131.9 492.5,130.9 493.2,130.4 494.0,129.4 494.7,129.0 495.4,129.8 496.1,130.2 496.9,132.4 497.6,133.0 498.3,129.2" fill="none" stroke="#e06a6a" stroke-width="0.55"/>
<polyline points="464.3,131.8 465.0,136.1 465.7,132.8 466.5,135.0 467.2,133.5 467.9,135.7 468.6,129.1 469.4,131.5 470.1,133.8 470.8,132.2 471.5,136.4 472.3,134.9 473.0,132.0 473.7,133.7 474.4,134.0 475.2,135.8 475.9,131.5 476.6,135.6 477.3,132.5 478.0,132.0 478.8,132.6 479.5,131.6 480.2,126.1 480.9,132.9 481.7,129.0 482.4,131.9 483.1,132.3 483.8,125.5 484.6,134.2 485.3,131.9 486.0,134.1 486.7,131.3 487.4,135.7 488.2,135.2 488.9,135.0 489.6,133.0 490.3,133.9 491.1,133.6 491.8,135.5 492.5,131.8 493.2,136.1 494.0,132.9 494.7,135.5 495.4,136.2 496.1,135.1 496.9,132.1 497.6,133.9 498.3,135.3" fill="none" stroke="#4fb0c4" stroke-width="0.55"/>
<circle cx="520.9" cy="115.0" r="0.8" fill="none" stroke="#6aaad6" stroke-width="0.4"/><circle cx="512.5" cy="124.3" r="0.8" fill="none" stroke="#6aaad6" stroke-width="0.4"/><circle cx="508.7" cy="118.3" r="0.8" fill="none" stroke="#6aaad6" stroke-width="0.4"/><circle cx="518.4" cy="121.9" r="0.8" fill="none" stroke="#6aaad6" stroke-width="0.4"/><circle cx="512.7" cy="121.8" r="0.8" fill="none" stroke="#6aaad6" stroke-width="0.4"/><circle cx="513.1" cy="119.3" r="0.8" fill="none" stroke="#6aaad6" stroke-width="0.4"/><circle cx="519.7" cy="120.4" r="0.8" fill="none" stroke="#6aaad6" stroke-width="0.4"/><circle cx="511.8" cy="122.3" r="0.8" fill="none" stroke="#6aaad6" stroke-width="0.4"/><circle cx="506.7" cy="119.8" r="0.8" fill="none" stroke="#6aaad6" stroke-width="0.4"/><circle cx="500.7" cy="124.7" r="0.8" fill="none" stroke="#6aaad6" stroke-width="0.4"/><circle cx="513.6" cy="118.7" r="0.8" fill="none" stroke="#6aaad6" stroke-width="0.4"/><circle cx="515.1" cy="116.8" r="0.8" fill="none" stroke="#6aaad6" stroke-width="0.4"/><circle cx="507.6" cy="123.3" r="0.8" fill="none" stroke="#6aaad6" stroke-width="0.4"/><circle cx="508.8" cy="130.5" r="0.8" fill="none" stroke="#6aaad6" stroke-width="0.4"/><circle cx="497.8" cy="122.2" r="0.8" fill="none" stroke="#6aaad6" stroke-width="0.4"/><circle cx="507.6" cy="123.7" r="0.8" fill="none" stroke="#6aaad6" stroke-width="0.4"/><circle cx="503.6" cy="121.3" r="0.8" fill="none" stroke="#6aaad6" stroke-width="0.4"/><circle cx="519.9" cy="123.3" r="0.8" fill="none" stroke="#6aaad6" stroke-width="0.4"/><circle cx="514.8" cy="122.0" r="0.8" fill="none" stroke="#6aaad6" stroke-width="0.4"/><circle cx="515.9" cy="122.0" r="0.8" fill="none" stroke="#6aaad6" stroke-width="0.4"/><circle cx="503.5" cy="125.0" r="0.8" fill="none" stroke="#6aaad6" stroke-width="0.4"/><circle cx="520.9" cy="114.4" r="0.8" fill="none" stroke="#6aaad6" stroke-width="0.4"/><circle cx="506.1" cy="121.8" r="0.8" fill="none" stroke="#6aaad6" stroke-width="0.4"/><circle cx="504.8" cy="122.5" r="0.8" fill="none" stroke="#6aaad6" stroke-width="0.4"/><circle cx="507.4" cy="125.6" r="0.8" fill="none" stroke="#6aaad6" stroke-width="0.4"/><circle cx="502.7" cy="121.2" r="0.8" fill="none" stroke="#6aaad6" stroke-width="0.4"/><circle cx="505.4" cy="126.4" r="0.8" fill="none" stroke="#6aaad6" stroke-width="0.4"/><circle cx="504.3" cy="129.1" r="0.8" fill="none" stroke="#6aaad6" stroke-width="0.4"/><circle cx="503.1" cy="123.9" r="0.8" fill="none" stroke="#6aaad6" stroke-width="0.4"/><circle cx="511.4" cy="118.5" r="0.8" fill="none" stroke="#6aaad6" stroke-width="0.4"/><circle cx="517.6" cy="132.9" r="0.8" fill="none" stroke="#6aaad6" stroke-width="0.4"/><circle cx="517.7" cy="118.6" r="0.8" fill="none" stroke="#6aaad6" stroke-width="0.4"/><circle cx="505.7" cy="128.7" r="0.8" fill="none" stroke="#6aaad6" stroke-width="0.4"/><circle cx="507.0" cy="120.0" r="0.8" fill="none" stroke="#6aaad6" stroke-width="0.4"/><circle cx="520.2" cy="124.5" r="0.8" fill="none" stroke="#6aaad6" stroke-width="0.4"/><circle cx="509.1" cy="118.6" r="0.8" fill="none" stroke="#6aaad6" stroke-width="0.4"/><circle cx="510.9" cy="117.9" r="0.8" fill="none" stroke="#6aaad6" stroke-width="0.4"/><circle cx="504.9" cy="124.2" r="0.8" fill="none" stroke="#6aaad6" stroke-width="0.4"/><circle cx="499.3" cy="122.5" r="0.8" fill="none" stroke="#6aaad6" stroke-width="0.4"/><circle cx="520.6" cy="124.2" r="0.8" fill="none" stroke="#6aaad6" stroke-width="0.4"/><circle cx="508.3" cy="128.5" r="0.8" fill="none" stroke="#6aaad6" stroke-width="0.4"/><circle cx="521.0" cy="118.4" r="0.8" fill="none" stroke="#6aaad6" stroke-width="0.4"/><circle cx="505.9" cy="122.6" r="0.8" fill="none" stroke="#6aaad6" stroke-width="0.4"/><circle cx="500.1" cy="122.2" r="0.8" fill="none" stroke="#6aaad6" stroke-width="0.4"/><circle cx="520.6" cy="136.5" r="0.8" fill="none" stroke="#6aaad6" stroke-width="0.4"/><circle cx="504.1" cy="126.9" r="0.8" fill="none" stroke="#6aaad6" stroke-width="0.4"/><circle cx="500.3" cy="121.8" r="0.8" fill="none" stroke="#6aaad6" stroke-width="0.4"/><circle cx="515.1" cy="133.8" r="0.8" fill="none" stroke="#6aaad6" stroke-width="0.4"/><circle cx="504.5" cy="121.9" r="0.8" fill="none" stroke="#6aaad6" stroke-width="0.4"/><circle cx="519.3" cy="135.1" r="0.8" fill="none" stroke="#6aaad6" stroke-width="0.4"/><circle cx="516.5" cy="127.2" r="0.8" fill="none" stroke="#6aaad6" stroke-width="0.4"/><circle cx="515.6" cy="120.4" r="0.8" fill="none" stroke="#6aaad6" stroke-width="0.4"/><circle cx="504.8" cy="125.9" r="0.8" fill="none" stroke="#6aaad6" stroke-width="0.4"/><circle cx="504.7" cy="128.8" r="0.8" fill="none" stroke="#6aaad6" stroke-width="0.4"/><circle cx="507.3" cy="119.8" r="0.8" fill="none" stroke="#6aaad6" stroke-width="0.4"/><circle cx="500.0" cy="126.6" r="0.8" fill="none" stroke="#6aaad6" stroke-width="0.4"/><circle cx="499.2" cy="125.4" r="0.8" fill="none" stroke="#6aaad6" stroke-width="0.4"/><circle cx="497.6" cy="126.4" r="0.8" fill="none" stroke="#6aaad6" stroke-width="0.4"/><circle cx="503.9" cy="120.4" r="0.8" fill="none" stroke="#6aaad6" stroke-width="0.4"/><circle cx="498.3" cy="126.1" r="0.8" fill="none" stroke="#6aaad6" stroke-width="0.4"/><circle cx="507.2" cy="120.0" r="0.8" fill="none" stroke="#6aaad6" stroke-width="0.4"/><circle cx="498.0" cy="122.6" r="0.8" fill="none" stroke="#6aaad6" stroke-width="0.4"/><circle cx="510.2" cy="120.1" r="0.8" fill="none" stroke="#6aaad6" stroke-width="0.4"/><circle cx="498.2" cy="122.5" r="0.8" fill="none" stroke="#6aaad6" stroke-width="0.4"/><circle cx="511.1" cy="124.0" r="0.8" fill="none" stroke="#6aaad6" stroke-width="0.4"/><circle cx="518.2" cy="132.7" r="0.8" fill="none" stroke="#6aaad6" stroke-width="0.4"/><circle cx="507.2" cy="119.3" r="0.8" fill="none" stroke="#6aaad6" stroke-width="0.4"/><circle cx="513.9" cy="126.1" r="0.8" fill="none" stroke="#6aaad6" stroke-width="0.4"/><circle cx="520.4" cy="134.0" r="0.8" fill="none" stroke="#6aaad6" stroke-width="0.4"/><circle cx="517.3" cy="120.2" r="0.8" fill="none" stroke="#6aaad6" stroke-width="0.4"/><circle cx="514.8" cy="124.9" r="0.8" fill="none" stroke="#6aaad6" stroke-width="0.4"/><circle cx="501.7" cy="122.9" r="0.8" fill="none" stroke="#6aaad6" stroke-width="0.4"/><circle cx="503.2" cy="122.7" r="0.8" fill="none" stroke="#6aaad6" stroke-width="0.4"/><circle cx="510.9" cy="124.1" r="0.8" fill="none" stroke="#6aaad6" stroke-width="0.4"/><circle cx="517.5" cy="125.3" r="0.8" fill="none" stroke="#6aaad6" stroke-width="0.4"/><circle cx="516.4" cy="123.6" r="0.8" fill="none" stroke="#6aaad6" stroke-width="0.4"/><circle cx="504.1" cy="122.9" r="0.8" fill="none" stroke="#6aaad6" stroke-width="0.4"/><circle cx="498.6" cy="125.8" r="0.8" fill="none" stroke="#6aaad6" stroke-width="0.4"/><circle cx="508.5" cy="122.6" r="0.8" fill="none" stroke="#6aaad6" stroke-width="0.4"/><circle cx="515.2" cy="120.6" r="0.8" fill="none" stroke="#6aaad6" stroke-width="0.4"/><circle cx="504.4" cy="126.9" r="0.8" fill="none" stroke="#6aaad6" stroke-width="0.4"/><circle cx="499.0" cy="123.6" r="0.8" fill="none" stroke="#6aaad6" stroke-width="0.4"/><circle cx="502.1" cy="127.2" r="0.8" fill="none" stroke="#6aaad6" stroke-width="0.4"/><circle cx="518.7" cy="125.6" r="0.8" fill="none" stroke="#6aaad6" stroke-width="0.4"/><circle cx="517.8" cy="121.7" r="0.8" fill="none" stroke="#6aaad6" stroke-width="0.4"/><circle cx="519.5" cy="125.8" r="0.8" fill="none" stroke="#6aaad6" stroke-width="0.4"/><circle cx="506.9" cy="129.7" r="0.8" fill="none" stroke="#6aaad6" stroke-width="0.4"/><circle cx="503.7" cy="123.8" r="0.8" fill="none" stroke="#6aaad6" stroke-width="0.4"/><circle cx="500.7" cy="124.2" r="0.8" fill="none" stroke="#6aaad6" stroke-width="0.4"/><circle cx="508.7" cy="123.5" r="0.8" fill="none" stroke="#6aaad6" stroke-width="0.4"/><circle cx="501.4" cy="122.0" r="0.8" fill="none" stroke="#6aaad6" stroke-width="0.4"/><circle cx="499.5" cy="124.0" r="0.8" fill="none" stroke="#6aaad6" stroke-width="0.4"/><circle cx="513.9" cy="128.2" r="0.8" fill="none" stroke="#6aaad6" stroke-width="0.4"/><circle cx="511.0" cy="128.9" r="0.8" fill="none" stroke="#6aaad6" stroke-width="0.4"/><circle cx="498.0" cy="126.0" r="0.8" fill="none" stroke="#6aaad6" stroke-width="0.4"/><circle cx="501.8" cy="121.1" r="0.8" fill="none" stroke="#6aaad6" stroke-width="0.4"/><circle cx="520.8" cy="118.8" r="0.8" fill="none" stroke="#6aaad6" stroke-width="0.4"/><circle cx="518.9" cy="126.6" r="0.8" fill="none" stroke="#6aaad6" stroke-width="0.4"/><circle cx="504.7" cy="128.6" r="0.8" fill="none" stroke="#6aaad6" stroke-width="0.4"/><circle cx="520.6" cy="116.3" r="0.8" fill="none" stroke="#6aaad6" stroke-width="0.4"/><circle cx="514.4" cy="118.2" r="0.8" fill="none" stroke="#6aaad6" stroke-width="0.4"/><circle cx="500.3" cy="125.5" r="0.8" fill="none" stroke="#6aaad6" stroke-width="0.4"/><circle cx="499.6" cy="124.4" r="0.8" fill="none" stroke="#6aaad6" stroke-width="0.4"/><circle cx="508.3" cy="125.2" r="0.8" fill="none" stroke="#6aaad6" stroke-width="0.4"/><circle cx="497.6" cy="125.3" r="0.8" fill="none" stroke="#6aaad6" stroke-width="0.4"/><circle cx="507.0" cy="125.4" r="0.8" fill="none" stroke="#6aaad6" stroke-width="0.4"/><circle cx="512.8" cy="128.8" r="0.8" fill="none" stroke="#6aaad6" stroke-width="0.4"/><circle cx="501.6" cy="121.1" r="0.8" fill="none" stroke="#6aaad6" stroke-width="0.4"/><circle cx="510.8" cy="125.4" r="0.8" fill="none" stroke="#6aaad6" stroke-width="0.4"/><circle cx="506.7" cy="126.5" r="0.8" fill="none" stroke="#6aaad6" stroke-width="0.4"/>
<circle cx="476.2" cy="160.0" r="0.8" fill="none" stroke="#6aaad6" stroke-width="0.4"/><circle cx="474.0" cy="160.5" r="0.8" fill="none" stroke="#6aaad6" stroke-width="0.4"/><circle cx="468.9" cy="164.2" r="0.8" fill="none" stroke="#6aaad6" stroke-width="0.4"/><circle cx="463.5" cy="160.5" r="0.8" fill="none" stroke="#6aaad6" stroke-width="0.4"/><circle cx="471.8" cy="157.4" r="0.8" fill="none" stroke="#6aaad6" stroke-width="0.4"/><circle cx="463.0" cy="161.3" r="0.8" fill="none" stroke="#6aaad6" stroke-width="0.4"/><circle cx="475.7" cy="160.7" r="0.8" fill="none" stroke="#6aaad6" stroke-width="0.4"/><circle cx="468.4" cy="156.7" r="0.8" fill="none" stroke="#6aaad6" stroke-width="0.4"/><circle cx="463.8" cy="162.4" r="0.8" fill="none" stroke="#6aaad6" stroke-width="0.4"/><circle cx="475.4" cy="161.0" r="0.8" fill="none" stroke="#6aaad6" stroke-width="0.4"/><circle cx="460.5" cy="167.3" r="0.8" fill="none" stroke="#6aaad6" stroke-width="0.4"/><circle cx="473.7" cy="164.3" r="0.8" fill="none" stroke="#6aaad6" stroke-width="0.4"/><circle cx="472.3" cy="163.3" r="0.8" fill="none" stroke="#6aaad6" stroke-width="0.4"/><circle cx="464.3" cy="170.4" r="0.8" fill="none" stroke="#6aaad6" stroke-width="0.4"/><circle cx="473.3" cy="156.7" r="0.8" fill="none" stroke="#6aaad6" stroke-width="0.4"/><circle cx="475.9" cy="162.2" r="0.8" fill="none" stroke="#6aaad6" stroke-width="0.4"/><circle cx="466.8" cy="165.0" r="0.8" fill="none" stroke="#6aaad6" stroke-width="0.4"/><circle cx="475.4" cy="161.8" r="0.8" fill="none" stroke="#6aaad6" stroke-width="0.4"/><circle cx="472.0" cy="162.8" r="0.8" fill="none" stroke="#6aaad6" stroke-width="0.4"/><circle cx="463.8" cy="150.9" r="0.8" fill="none" stroke="#6aaad6" stroke-width="0.4"/><circle cx="462.8" cy="160.3" r="0.8" fill="none" stroke="#6aaad6" stroke-width="0.4"/><circle cx="468.4" cy="159.8" r="0.8" fill="none" stroke="#6aaad6" stroke-width="0.4"/><circle cx="472.3" cy="161.9" r="0.8" fill="none" stroke="#6aaad6" stroke-width="0.4"/><circle cx="460.4" cy="157.5" r="0.8" fill="none" stroke="#6aaad6" stroke-width="0.4"/><circle cx="471.6" cy="157.0" r="0.8" fill="none" stroke="#6aaad6" stroke-width="0.4"/><circle cx="474.9" cy="157.8" r="0.8" fill="none" stroke="#6aaad6" stroke-width="0.4"/><circle cx="465.5" cy="164.8" r="0.8" fill="none" stroke="#6aaad6" stroke-width="0.4"/><circle cx="474.1" cy="163.5" r="0.8" fill="none" stroke="#6aaad6" stroke-width="0.4"/><circle cx="468.8" cy="154.4" r="0.8" fill="none" stroke="#6aaad6" stroke-width="0.4"/><circle cx="467.0" cy="161.7" r="0.8" fill="none" stroke="#6aaad6" stroke-width="0.4"/><circle cx="463.5" cy="168.8" r="0.8" fill="none" stroke="#6aaad6" stroke-width="0.4"/><circle cx="468.2" cy="158.2" r="0.8" fill="none" stroke="#6aaad6" stroke-width="0.4"/><circle cx="471.4" cy="166.4" r="0.8" fill="none" stroke="#6aaad6" stroke-width="0.4"/><circle cx="462.0" cy="150.6" r="0.8" fill="none" stroke="#6aaad6" stroke-width="0.4"/><circle cx="470.1" cy="157.5" r="0.8" fill="none" stroke="#6aaad6" stroke-width="0.4"/><circle cx="459.8" cy="155.2" r="0.8" fill="none" stroke="#6aaad6" stroke-width="0.4"/><circle cx="474.9" cy="160.5" r="0.8" fill="none" stroke="#6aaad6" stroke-width="0.4"/><circle cx="474.7" cy="162.2" r="0.8" fill="none" stroke="#6aaad6" stroke-width="0.4"/><circle cx="461.4" cy="167.2" r="0.8" fill="none" stroke="#6aaad6" stroke-width="0.4"/><circle cx="464.5" cy="157.2" r="0.8" fill="none" stroke="#6aaad6" stroke-width="0.4"/><circle cx="463.2" cy="171.4" r="0.8" fill="none" stroke="#6aaad6" stroke-width="0.4"/><circle cx="466.4" cy="158.6" r="0.8" fill="none" stroke="#6aaad6" stroke-width="0.4"/><circle cx="475.3" cy="162.5" r="0.8" fill="none" stroke="#6aaad6" stroke-width="0.4"/><circle cx="465.1" cy="157.6" r="0.8" fill="none" stroke="#6aaad6" stroke-width="0.4"/><circle cx="462.8" cy="168.9" r="0.8" fill="none" stroke="#6aaad6" stroke-width="0.4"/><circle cx="469.0" cy="162.3" r="0.8" fill="none" stroke="#6aaad6" stroke-width="0.4"/><circle cx="464.6" cy="164.5" r="0.8" fill="none" stroke="#6aaad6" stroke-width="0.4"/><circle cx="460.3" cy="149.6" r="0.8" fill="none" stroke="#6aaad6" stroke-width="0.4"/><circle cx="475.3" cy="159.5" r="0.8" fill="none" stroke="#6aaad6" stroke-width="0.4"/><circle cx="463.6" cy="169.3" r="0.8" fill="none" stroke="#6aaad6" stroke-width="0.4"/><circle cx="473.6" cy="158.6" r="0.8" fill="none" stroke="#6aaad6" stroke-width="0.4"/><circle cx="467.7" cy="154.5" r="0.8" fill="none" stroke="#6aaad6" stroke-width="0.4"/><circle cx="461.2" cy="173.0" r="0.8" fill="none" stroke="#6aaad6" stroke-width="0.4"/><circle cx="467.2" cy="153.0" r="0.8" fill="none" stroke="#6aaad6" stroke-width="0.4"/><circle cx="469.6" cy="165.0" r="0.8" fill="none" stroke="#6aaad6" stroke-width="0.4"/><circle cx="469.3" cy="165.7" r="0.8" fill="none" stroke="#6aaad6" stroke-width="0.4"/><circle cx="465.5" cy="162.7" r="0.8" fill="none" stroke="#6aaad6" stroke-width="0.4"/><circle cx="473.7" cy="157.4" r="0.8" fill="none" stroke="#6aaad6" stroke-width="0.4"/><circle cx="475.6" cy="161.5" r="0.8" fill="none" stroke="#6aaad6" stroke-width="0.4"/><circle cx="470.4" cy="159.6" r="0.8" fill="none" stroke="#6aaad6" stroke-width="0.4"/><circle cx="461.2" cy="154.0" r="0.8" fill="none" stroke="#6aaad6" stroke-width="0.4"/><circle cx="461.0" cy="174.5" r="0.8" fill="none" stroke="#6aaad6" stroke-width="0.4"/><circle cx="466.2" cy="162.3" r="0.8" fill="none" stroke="#6aaad6" stroke-width="0.4"/><circle cx="464.6" cy="165.7" r="0.8" fill="none" stroke="#6aaad6" stroke-width="0.4"/><circle cx="476.2" cy="163.7" r="0.8" fill="none" stroke="#6aaad6" stroke-width="0.4"/><circle cx="474.6" cy="161.5" r="0.8" fill="none" stroke="#6aaad6" stroke-width="0.4"/><circle cx="469.7" cy="162.7" r="0.8" fill="none" stroke="#6aaad6" stroke-width="0.4"/><circle cx="460.5" cy="152.5" r="0.8" fill="none" stroke="#6aaad6" stroke-width="0.4"/><circle cx="473.5" cy="163.4" r="0.8" fill="none" stroke="#6aaad6" stroke-width="0.4"/><circle cx="465.8" cy="161.3" r="0.8" fill="none" stroke="#6aaad6" stroke-width="0.4"/><circle cx="471.7" cy="162.0" r="0.8" fill="none" stroke="#6aaad6" stroke-width="0.4"/><circle cx="476.1" cy="160.5" r="0.8" fill="none" stroke="#6aaad6" stroke-width="0.4"/><circle cx="464.7" cy="156.6" r="0.8" fill="none" stroke="#6aaad6" stroke-width="0.4"/><circle cx="461.8" cy="155.8" r="0.8" fill="none" stroke="#6aaad6" stroke-width="0.4"/><circle cx="467.1" cy="166.5" r="0.8" fill="none" stroke="#6aaad6" stroke-width="0.4"/><circle cx="459.5" cy="146.8" r="0.8" fill="none" stroke="#6aaad6" stroke-width="0.4"/><circle cx="471.1" cy="160.5" r="0.8" fill="none" stroke="#6aaad6" stroke-width="0.4"/><circle cx="462.6" cy="169.4" r="0.8" fill="none" stroke="#6aaad6" stroke-width="0.4"/><circle cx="460.1" cy="164.3" r="0.8" fill="none" stroke="#6aaad6" stroke-width="0.4"/><circle cx="466.3" cy="160.2" r="0.8" fill="none" stroke="#6aaad6" stroke-width="0.4"/><circle cx="460.6" cy="158.3" r="0.8" fill="none" stroke="#6aaad6" stroke-width="0.4"/><circle cx="460.5" cy="153.7" r="0.8" fill="none" stroke="#6aaad6" stroke-width="0.4"/><circle cx="467.0" cy="154.4" r="0.8" fill="none" stroke="#6aaad6" stroke-width="0.4"/><circle cx="466.6" cy="166.2" r="0.8" fill="none" stroke="#6aaad6" stroke-width="0.4"/><circle cx="473.1" cy="162.6" r="0.8" fill="none" stroke="#6aaad6" stroke-width="0.4"/><circle cx="470.1" cy="164.0" r="0.8" fill="none" stroke="#6aaad6" stroke-width="0.4"/><circle cx="469.6" cy="163.8" r="0.8" fill="none" stroke="#6aaad6" stroke-width="0.4"/><circle cx="475.4" cy="161.0" r="0.8" fill="none" stroke="#6aaad6" stroke-width="0.4"/><circle cx="460.4" cy="160.7" r="0.8" fill="none" stroke="#6aaad6" stroke-width="0.4"/><circle cx="465.6" cy="170.5" r="0.8" fill="none" stroke="#6aaad6" stroke-width="0.4"/><circle cx="462.6" cy="158.9" r="0.8" fill="none" stroke="#6aaad6" stroke-width="0.4"/><circle cx="463.8" cy="161.8" r="0.8" fill="none" stroke="#6aaad6" stroke-width="0.4"/><circle cx="465.9" cy="164.7" r="0.8" fill="none" stroke="#6aaad6" stroke-width="0.4"/><circle cx="459.5" cy="163.8" r="0.8" fill="none" stroke="#6aaad6" stroke-width="0.4"/><circle cx="473.5" cy="163.0" r="0.8" fill="none" stroke="#6aaad6" stroke-width="0.4"/><circle cx="464.7" cy="167.0" r="0.8" fill="none" stroke="#6aaad6" stroke-width="0.4"/><circle cx="469.0" cy="167.2" r="0.8" fill="none" stroke="#6aaad6" stroke-width="0.4"/><circle cx="460.4" cy="171.8" r="0.8" fill="none" stroke="#6aaad6" stroke-width="0.4"/><circle cx="473.3" cy="156.7" r="0.8" fill="none" stroke="#6aaad6" stroke-width="0.4"/><circle cx="461.5" cy="169.0" r="0.8" fill="none" stroke="#6aaad6" stroke-width="0.4"/><circle cx="470.3" cy="166.6" r="0.8" fill="none" stroke="#6aaad6" stroke-width="0.4"/><circle cx="475.3" cy="163.6" r="0.8" fill="none" stroke="#6aaad6" stroke-width="0.4"/><circle cx="476.0" cy="158.5" r="0.8" fill="none" stroke="#6aaad6" stroke-width="0.4"/><circle cx="469.1" cy="166.4" r="0.8" fill="none" stroke="#6aaad6" stroke-width="0.4"/><circle cx="466.9" cy="156.8" r="0.8" fill="none" stroke="#6aaad6" stroke-width="0.4"/><circle cx="471.6" cy="164.5" r="0.8" fill="none" stroke="#6aaad6" stroke-width="0.4"/><circle cx="470.1" cy="161.6" r="0.8" fill="none" stroke="#6aaad6" stroke-width="0.4"/><circle cx="474.4" cy="161.7" r="0.8" fill="none" stroke="#6aaad6" stroke-width="0.4"/><circle cx="466.1" cy="161.3" r="0.8" fill="none" stroke="#6aaad6" stroke-width="0.4"/><circle cx="467.9" cy="165.1" r="0.8" fill="none" stroke="#6aaad6" stroke-width="0.4"/>
<path d="M478 150H490M480 155H488M481 160H491M479 166H489M482 171H490" stroke="#9ab8cc" stroke-width="0.35" stroke-dasharray="1,0.7"/>
<circle cx="498.90000000000003" cy="141.3" r="2.4" fill="#e0673a"/><path d="M494.3 144.4H503.5L505.0 151.9L503.40000000000003 152.4L502.6 148.4V161.70000000000002H499.6V153.9H498.2V161.70000000000002H495.2V148.4L494.40000000000003 152.4L492.8 151.9Z" fill="#e0673a"/>
<circle cx="498.90000000000003" cy="165.0" r="2.4" fill="#2d4a66"/><path d="M494.3 168.1H503.5L505.0 175.6L503.40000000000003 176.1L502.6 172.1V185.4H499.6V177.6H498.2V185.4H495.2V172.1L494.40000000000003 176.1L492.8 175.6Z" fill="#2d4a66"/>
<text x="505.5" y="150.6" style="font-size:4.8px;font-weight:bold;fill:#222" textLength="15.2" lengthAdjust="spacingAndGlyphs">Positive</text>
<text x="505.5" y="178.9" style="font-size:4.8px;font-weight:bold;fill:#222" textLength="16.4" lengthAdjust="spacingAndGlyphs">Negative</text>
<!-- ===== panel h ===== -->
<text x="363.3" y="199" style="font-size:12px;font-weight:bold;fill:#111">h</text>
<text x="372" y="196" style="font-size:5.8px;fill:#222" textLength="24" lengthAdjust="spacingAndGlyphs">Blockchain</text>
<text x="372" y="202.6" style="font-size:5.8px;fill:#222" textLength="65.3" lengthAdjust="spacingAndGlyphs">(Hyperledger Composer)</text>
<path d="M385 207.95L390.5 205.2L396.0 207.95L390.5 210.7Z" fill="#c7b3e6"/><path d="M385 207.95L390.5 210.7V216.75L385 214.0Z" fill="#9a7fc8"/><path d="M390.5 210.7L396.0 207.95V214.0L390.5 216.75Z" fill="#7d62b0"/>
<path d="M376 212.3L381.6 209.5L387.2 212.3L381.6 215.1Z" fill="#b9c6f0"/><path d="M376 212.3L381.6 215.1V221.26L376 218.46Z" fill="#8796d8"/><path d="M381.6 215.1L387.2 212.3V218.46L381.6 221.26Z" fill="#6c7cc0"/>
<path d="M386.5 218.4L392.3 215.5L398.1 218.4L392.3 221.3Z" fill="#8fd08f"/><path d="M386.5 218.4L392.3 221.3V227.68L386.5 224.78Z" fill="#5aa86a"/><path d="M392.3 221.3L398.1 218.4V224.78L392.3 227.68Z" fill="#3f8a52"/>
<rect x="413" y="223" width="18.6" height="15.4" rx="2" fill="#fff" stroke="#333" stroke-width="0.9"/>
<path d="M413 230.7H431.6" stroke="#fff" stroke-width="1.5"/>
<rect x="415.5" y="225" width="4.5" height="4.2" fill="none" stroke="#222" stroke-width="0.9"/><rect x="424" y="225" width="4.5" height="4.2" fill="none" stroke="#222" stroke-width="0.9"/><rect x="424.5" y="232.5" width="3.8" height="3.8" fill="#222"/><path d="M415.5 232.5V236.3H420" stroke="#222" stroke-width="0.9" fill="none"/>
<path d="M411 230.7H433.5" stroke="#222" stroke-width="0.5"/>
<text x="411" y="244.8" style="font-size:6px;fill:#222" textLength="22.8" lengthAdjust="spacingAndGlyphs">QR code</text>
<text x="413" y="250.2" style="font-size:6px;fill:#222" textLength="19" lengthAdjust="spacingAndGlyphs">scanner</text>
<path d="M411 222L402.5 216.5" stroke="#222" stroke-width="0.7"/><path d="M401 215.5L404.8 216.2L403 218.8Z" fill="#222"/>
<path d="M410.5 238.5L401 244" stroke="#222" stroke-width="0.7"/><path d="M399.5 244.8L401.6 241.8L403 244.4Z" fill="#222"/>
<path d="M437 231.5H443" stroke="#222" stroke-width="0.7"/><path d="M436 231.5L438.6 230V233Z M444 231.5L441.4 230V233Z" fill="#222"/>
<path d="M380.2 251L384 237L386.5 242.5L388 239.5L393.4 251L386.8 255.3Z" fill="#f6b52a"/>
<path d="M380.2 251L384 237L387.8 246Z" fill="#f08a1e"/><path d="M380.2 251L391 244L393.4 251L386.8 255.3Z" fill="#fbc73a"/>
<text x="368.8" y="262.8" style="font-size:6px;fill:#222" textLength="49" lengthAdjust="spacingAndGlyphs">Storage/real-time</text>
<text x="368.8" y="268.6" style="font-size:6px;fill:#222" textLength="51.8" lengthAdjust="spacingAndGlyphs">database (Firebase)</text>
<defs><clipPath id="hclip"><rect x="447.4" y="201.2" width="62.9" height="65.5"/></clipPath><linearGradient id="hbg" x1="0" x2="1" y1="0" y2="1"><stop offset="0" stop-color="#9a958e"/><stop offset="0.5" stop-color="#7a7671"/><stop offset="1" stop-color="#5a4a3a"/></linearGradient></defs>
<g clip-path="url(#hclip)">
<rect x="447.4" y="201.2" width="62.9" height="65.5" fill="#8f8a84"/>
<path d="M447.4 201.2H475L470 215L447.4 222Z" fill="#a9a49c"/>
<path d="M450 206L468 203M449 212L462 209M452 218L466 214" stroke="#c4c0b8" stroke-width="1.2" opacity="0.7"/>
<path d="M468 201.2H510.3V222L495 218L478 214L465 212Z" fill="#3c3c40"/>
<path d="M447.4 222L470 214L484 219.7L460 240L447.4 246Z" fill="#9a948c"/>
<path d="M488 247L510.3 236V266.7H470Z" fill="#6e5840"/>
<path d="M484 219.7L509.8 222.6V254.4L465.3 266.7L447.4 266.7V245.8L453.7 244.3Z" fill="#2b3a86"/>
<path d="M447.4 250L465.3 266.7H447.4Z" fill="#24307a"/>
<path d="M451.5 245.8L481.2 223.3L496.4 229.1L462.4 255.9Z" fill="#9dcbe6"/>
<path d="M455 246L482 225.5M458 248.5L485 227M461 251L488.5 228.5M464 253L492 230" stroke="#c9e3f2" stroke-width="0.5"/>
<path d="M491.3 202.3V223.3M494.5 202.6V223.6M498 203V224M501.5 203.5V224.5" stroke="#e2e2e6" stroke-width="1.1"/>
<path d="M490 203L504.3 205" stroke="#ccc" stroke-width="0.6"/>
<path d="M496 229L509.8 224V240L492 246Z" fill="#22307a"/>
<path d="M497 248V241" stroke="#ccc" stroke-width="0.5"/>
</g>
<text x="448" y="231" style="font-size:7px;fill:#fff" textLength="32" lengthAdjust="spacingAndGlyphs">Diagnostic</text>
<text x="449" y="237.5" style="font-size:7px;fill:#fff">app</text>
<text x="465" y="256.5" style="font-size:6.8px;fill:#fff" textLength="40" lengthAdjust="spacingAndGlyphs">Mobile heater</text>
<path d="M440 197.7H465.5V222.5" stroke="#222" stroke-width="0.7" fill="none"/><path d="M464 222L465.5 225.2L467 222Z" fill="#222"/>
<path d="M421 262L443 259L452 241" stroke="#222" stroke-width="0.6" fill="none"/>
<path d="M497.5 248V241" stroke="#ddd" stroke-width="0.5"/>
<!-- /GH -->
<!-- IJ -->
<!-- ===== panel i ===== -->
<text x="537.2" y="39.7" style="font-size:11px;font-weight:bold;fill:#111">i</text>
<text x="571.9" y="35.9" style="font-size:6.8px;font-weight:bold;fill:#111" textLength="80.3" lengthAdjust="spacingAndGlyphs">Holographic imaging device</text>
<path d="M560 103.4L594.1 118.9L630.5 111.9L612 121.5L601.5 127.5L580 123L563 116Z" fill="#8a8a8a"/>
<path d="M566 113L594 123L612 118" stroke="#5a5a5a" stroke-width="1" fill="none"/>
<circle cx="579" cy="147.3" r="28.2" fill="#030303" stroke="#b0b0b0" stroke-width="0.6"/>
<circle cx="567.2" cy="129.1" r="1.2" fill="#6a4a4a" stroke="#f2dada" stroke-width="0.75"/><circle cx="579.7" cy="126.8" r="1.2" fill="#6a4a4a" stroke="#f2dada" stroke-width="0.75"/><circle cx="586" cy="130.9" r="1.2" fill="#6a4a4a" stroke="#f2dada" stroke-width="0.75"/><circle cx="560.9" cy="133.8" r="1.2" fill="#6a4a4a" stroke="#f2dada" stroke-width="0.75"/><circle cx="554.1" cy="136.2" r="1.2" fill="#6a4a4a" stroke="#f2dada" stroke-width="0.75"/><circle cx="574.8" cy="135.2" r="1.2" fill="#6a4a4a" stroke="#f2dada" stroke-width="0.75"/><circle cx="577.3" cy="136.2" r="1.2" fill="#6a4a4a" stroke="#f2dada" stroke-width="0.75"/><circle cx="580.6" cy="138.9" r="1.2" fill="#6a4a4a" stroke="#f2dada" stroke-width="0.75"/><circle cx="584.9" cy="137.6" r="1.2" fill="#6a4a4a" stroke="#f2dada" stroke-width="0.75"/><circle cx="587.7" cy="137.8" r="1.2" fill="#6a4a4a" stroke="#f2dada" stroke-width="0.75"/><circle cx="567.2" cy="138.5" r="1.2" fill="#6a4a4a" stroke="#f2dada" stroke-width="0.75"/><circle cx="555.1" cy="143.9" r="1.2" fill="#6a4a4a" stroke="#f2dada" stroke-width="0.75"/><circle cx="557.4" cy="144.8" r="1.2" fill="#6a4a4a" stroke="#f2dada" stroke-width="0.75"/><circle cx="562.2" cy="144.8" r="1.2" fill="#6a4a4a" stroke="#f2dada" stroke-width="0.75"/><circle cx="570.5" cy="149.7" r="1.2" fill="#6a4a4a" stroke="#f2dada" stroke-width="0.75"/><circle cx="564.5" cy="153.3" r="1.2" fill="#6a4a4a" stroke="#f2dada" stroke-width="0.75"/><circle cx="581.3" cy="152" r="1.2" fill="#6a4a4a" stroke="#f2dada" stroke-width="0.75"/><circle cx="572.6" cy="156.4" r="1.2" fill="#6a4a4a" stroke="#f2dada" stroke-width="0.75"/><circle cx="592" cy="147.3" r="1.2" fill="#6a4a4a" stroke="#f2dada" stroke-width="0.75"/><circle cx="592" cy="154.2" r="1.2" fill="#6a4a4a" stroke="#f2dada" stroke-width="0.75"/><circle cx="602.1" cy="149.3" r="1.2" fill="#6a4a4a" stroke="#f2dada" stroke-width="0.75"/><circle cx="601.5" cy="157.3" r="1.2" fill="#6a4a4a" stroke="#f2dada" stroke-width="0.75"/><circle cx="596.1" cy="158.7" r="1.2" fill="#6a4a4a" stroke="#f2dada" stroke-width="0.75"/><circle cx="583.3" cy="159.4" r="1.2" fill="#6a4a4a" stroke="#f2dada" stroke-width="0.75"/><circle cx="555.5" cy="157.7" r="1.2" fill="#6a4a4a" stroke="#f2dada" stroke-width="0.75"/><circle cx="592.7" cy="161.8" r="1.2" fill="#6a4a4a" stroke="#f2dada" stroke-width="0.75"/><circle cx="577.3" cy="164.5" r="1.2" fill="#6a4a4a" stroke="#f2dada" stroke-width="0.75"/><circle cx="565.4" cy="165.8" r="1.2" fill="#6a4a4a" stroke="#f2dada" stroke-width="0.75"/><circle cx="596.7" cy="166.3" r="1.2" fill="#6a4a4a" stroke="#f2dada" stroke-width="0.75"/><circle cx="598.8" cy="165" r="1.2" fill="#6a4a4a" stroke="#f2dada" stroke-width="0.75"/>
<path d="M611.1 121V176" stroke="#5a7a3a" stroke-width="0.8" stroke-dasharray="1.5,1"/>
<circle cx="643.1" cy="148.1" r="29.3" fill="#4b4fd9"/>
<ellipse cx="625.7" cy="158.0" rx="0.9" ry="0.7" fill="#c6caf6"/><ellipse cx="628.3" cy="163.3" rx="1.0" ry="0.8" fill="#c6caf6"/><ellipse cx="643.4" cy="134.4" rx="0.6" ry="0.7" fill="#c6caf6"/><ellipse cx="647.5" cy="125.7" rx="1.0" ry="0.7" fill="#c6caf6"/><ellipse cx="662.6" cy="154.1" rx="0.6" ry="0.7" fill="#c6caf6"/><ellipse cx="643.0" cy="128.1" rx="1.1" ry="0.7" fill="#c6caf6"/><ellipse cx="640.7" cy="150.8" rx="0.8" ry="0.7" fill="#c6caf6"/><ellipse cx="662.1" cy="134.3" rx="1.0" ry="0.7" fill="#c6caf6"/><ellipse cx="656.3" cy="161.8" rx="0.9" ry="0.8" fill="#c6caf6"/><ellipse cx="623.5" cy="146.9" rx="1.0" ry="0.7" fill="#c6caf6"/><ellipse cx="638.4" cy="141.1" rx="0.8" ry="0.7" fill="#c6caf6"/><ellipse cx="642.9" cy="147.7" rx="0.9" ry="0.8" fill="#c6caf6"/><ellipse cx="628.6" cy="153.8" rx="0.9" ry="0.8" fill="#c6caf6"/><ellipse cx="626.5" cy="130.9" rx="0.8" ry="0.9" fill="#c6caf6"/><ellipse cx="635.1" cy="153.2" rx="0.8" ry="0.6" fill="#c6caf6"/><ellipse cx="657.5" cy="141.6" rx="0.9" ry="0.8" fill="#c6caf6"/><ellipse cx="663.0" cy="147.6" rx="0.8" ry="0.7" fill="#c6caf6"/><ellipse cx="657.3" cy="147.2" rx="1.0" ry="0.6" fill="#c6caf6"/><ellipse cx="630.5" cy="137.2" rx="0.8" ry="0.7" fill="#c6caf6"/><ellipse cx="620.7" cy="139.7" rx="1.0" ry="0.9" fill="#c6caf6"/><ellipse cx="655.9" cy="147.0" rx="0.7" ry="0.9" fill="#c6caf6"/><ellipse cx="644.4" cy="160.0" rx="0.6" ry="0.7" fill="#c6caf6"/><ellipse cx="660.7" cy="163.5" rx="1.0" ry="0.8" fill="#c6caf6"/><ellipse cx="639.3" cy="152.3" rx="1.0" ry="0.7" fill="#c6caf6"/><ellipse cx="644.9" cy="136.5" rx="1.0" ry="0.6" fill="#c6caf6"/><ellipse cx="650.6" cy="166.4" rx="0.9" ry="0.7" fill="#c6caf6"/><ellipse cx="651.2" cy="128.7" rx="0.9" ry="0.7" fill="#c6caf6"/><ellipse cx="642.8" cy="133.5" rx="0.7" ry="0.7" fill="#c6caf6"/><ellipse cx="636.7" cy="159.0" rx="0.9" ry="0.6" fill="#c6caf6"/><ellipse cx="654.1" cy="167.5" rx="1.0" ry="0.8" fill="#c6caf6"/><ellipse cx="626.2" cy="159.1" rx="0.7" ry="0.8" fill="#c6caf6"/><ellipse cx="637.3" cy="138.2" rx="1.1" ry="0.7" fill="#c6caf6"/><ellipse cx="643.3" cy="150.7" rx="1.1" ry="0.6" fill="#c6caf6"/><ellipse cx="648.4" cy="148.5" rx="1.0" ry="0.9" fill="#c6caf6"/><ellipse cx="633.2" cy="158.5" rx="0.9" ry="0.8" fill="#c6caf6"/><ellipse cx="656.6" cy="145.4" rx="0.9" ry="0.6" fill="#c6caf6"/><ellipse cx="650.6" cy="145.1" rx="0.9" ry="0.7" fill="#c6caf6"/><ellipse cx="638.0" cy="133.8" rx="0.6" ry="0.7" fill="#c6caf6"/><ellipse cx="629.9" cy="158.7" rx="1.0" ry="0.8" fill="#c6caf6"/><ellipse cx="640.8" cy="134.4" rx="0.8" ry="0.7" fill="#c6caf6"/><ellipse cx="621.5" cy="147.0" rx="0.8" ry="0.8" fill="#c6caf6"/><ellipse cx="649.7" cy="161.5" rx="0.9" ry="0.9" fill="#c6caf6"/><ellipse cx="653.4" cy="157.6" rx="0.7" ry="0.9" fill="#c6caf6"/><ellipse cx="637.2" cy="154.1" rx="1.0" ry="0.9" fill="#c6caf6"/><ellipse cx="633.4" cy="138.3" rx="0.8" ry="0.6" fill="#c6caf6"/>
<path d="M675.5 170.4H678.5" stroke="#111" stroke-width="1"/>
<text x="669" y="176.2" style="font-size:4.4px;fill:#222" textLength="12" lengthAdjust="spacingAndGlyphs">2 mm</text>
<text x="578.7" y="185.3" text-anchor="middle" style="font-size:7.6px;fill:#222" textLength="54.5" lengthAdjust="spacingAndGlyphs">Holographic image</text>
<text x="578.5" y="192.4" text-anchor="middle" style="font-size:7.6px;fill:#222">at <tspan fill="#e0302a">72</tspan> h</text>
<text x="644" y="185.3" text-anchor="middle" style="font-size:7.6px;fill:#222" textLength="51.8" lengthAdjust="spacingAndGlyphs">Traditional plaque</text>
<text x="644.2" y="192.4" text-anchor="middle" style="font-size:7.6px;fill:#222" textLength="43" lengthAdjust="spacingAndGlyphs">assay at <tspan fill="#e0302a">120</tspan> h</text>
<g>
<path d="M628 71L641 67.5L655.1 72.6L657.4 92L634.2 100.5L628 97Z" fill="#2a2a2a"/>
<path d="M631.9 75L655.1 72.6L657.4 92L634.2 100.5Z" fill="#242424"/>
<path d="M631.9 75L641 67.5L655.1 72.6Z" fill="#3a3a3a"/>
<path d="M638 78V98M641 77.5V97M644 77V96M647 76.5V95M650 76V94M653 75.5V93" stroke="#333" stroke-width="0.5"/>
<path d="M596.2 44.7L635 35.4L638.8 66.4L599.3 71.9Z" fill="#262626"/>
<path d="M598.2 46.5L633.5 38L636.8 64.5L601 69.8Z" fill="#151515"/>
<path d="M606 71L628 67.5L634 73L612 77.5Z" fill="#1e1e1e"/>
<path d="M594.9 99.5L630.5 79.4L630.5 111.9L594.1 118.9Z" fill="#141414"/>
<path d="M598 101.5L613 93V115L598 118.5Z" fill="#1c1c1c" stroke="#333" stroke-width="0.5"/>
<path d="M615 92L630 83.5V110L615 114Z" fill="#1c1c1c" stroke="#333" stroke-width="0.5"/>
<circle cx="606" cy="108" r="5.5" fill="none" stroke="#3a3a3a" stroke-width="0.8"/><circle cx="622.5" cy="99.5" r="5.5" fill="none" stroke="#3a3a3a" stroke-width="0.8"/>
<circle cx="609.8" cy="108.4" r="2" fill="#e6e6e6"/><circle cx="624.5" cy="99.6" r="2" fill="#e6e6e6"/>
<path d="M558.7 84.7L574.8 75.5L630.5 77L632.5 79.6L594.9 99.5Z" fill="#1a1a1a"/>
<path d="M566 83.5L575 78.5L583 79.5L574 86Z" fill="#8a8a8a" opacity="0.7"/>
<path d="M585 80L596 78L600 83L590 87Z" fill="#6a6a6a" opacity="0.8"/>
<path d="M602 82L618 79L612 86L604 88Z" fill="#5a5a5a" opacity="0.8"/>
<circle cx="579" cy="83" r="3.2" fill="none" stroke="#777" stroke-width="0.7"/><circle cx="603" cy="84" r="3" fill="none" stroke="#666" stroke-width="0.7"/>
<path d="M563 88L610 80M570 92L620 83M580 95L628 82" stroke="#0e0e0e" stroke-width="1"/>
<path d="M573.2 70.1L588.7 64.7L613.5 71.7L594.9 78Z" fill="none" stroke="#111" stroke-width="1.1"/>
<path d="M577 71.5L592 66M581 73L597 67.5M586 75L602 69.5M590 76.5L606 71" stroke="#1a1a1a" stroke-width="0.6"/>
<path d="M573.8 70V89M594.9 78V99M613.5 71.7V90M588.7 64.7V76" stroke="#111" stroke-width="1.1"/>
<path d="M589 64.5V62" stroke="#111" stroke-width="1.3"/>
<path d="M558.5 84.8L594.9 99.5L594.1 118.9L560 103.4Z" fill="#565656" stroke="#1e1e1e" stroke-width="0.7"/>
<text transform="translate(562.8,96.6) rotate(12)" style="font-size:7px;font-style:italic;fill:#dedede" textLength="21.5" lengthAdjust="spacingAndGlyphs">27.5 cm</text>
<circle cx="565.5" cy="105" r="1.1" fill="#aaa"/><circle cx="585" cy="111.5" r="0.7" fill="#222"/>
<path d="M593.4 120.1L600 121.5V124.5M606 119V123M620 114V118" stroke="#444" stroke-width="0.5"/>
</g>
<!-- ===== panel j ===== -->
<text x="532.6" y="207.5" style="font-size:11.5px;font-weight:bold;fill:#111">j</text>
<path d="M534.2 241.5L551 257.5" stroke="#1a1a1a" stroke-width="2.8" stroke-linecap="round"/>
<path d="M542 250L552 240" stroke="#1a1a1a" stroke-width="3.5"/>
<path d="M542.3 239L548 228L559 224L571 240L563 252L549 250Z" fill="#1b1b1b"/>
<path d="M549.5 213.7L564 204.3L599 244L598 261L590.8 265.1L566 245L555 232Z" fill="#202020"/>
<path d="M557.5 218.5L566.5 211.5L596.5 246.5L592.5 258.5L575 247Z" fill="#3b3f3f"/>
<path d="M583 236L588 233" stroke="#111" stroke-width="1.4"/>
<rect x="579" y="252" width="3" height="2.2" fill="#ccc" transform="rotate(40 580 253)"/>
<path d="M612.2 242L674.5 243.4L675.9 252.1L613.7 262.2L611.5 260.8Z" fill="#1c1c1c"/>
<path d="M611.5 250L675.9 247" stroke="#2e2e2e" stroke-width="0.6"/>
<path d="M616.6 234H638.3V243.4H616.6Z" fill="#262626"/>
<path d="M619 236.5H636" stroke="#4a4a4a" stroke-width="0.6" stroke-dasharray="1.2,1"/>
<path d="M641.9 222.4H671.6V229L664 231V248.5H641.9Z" fill="#181818"/>
<path d="M644 225L650 224V236L644 238Z" fill="#2a2a2a"/>
<rect x="647" y="206.5" width="18.8" height="17" rx="1.2" fill="#232323"/>
<ellipse cx="656.4" cy="207" rx="9.4" ry="1.3" fill="#3a3a3a"/>
<path d="M662.9 234L683.1 232.6" stroke="#1a1a1a" stroke-width="2.4" stroke-linecap="round"/>
<rect x="629" y="253" width="4.2" height="2.6" fill="#d8d8d8"/>
<path d="M613.7 265.8L675.9 255" stroke="#333" stroke-width="0.5"/>
<path d="M613.5 264.3V267.3M675.7 253.5V256.5" stroke="#333" stroke-width="0.5"/>
<text transform="translate(636.2,266.9) rotate(-8)" style="font-size:5.8px;fill:#222" textLength="16.5" lengthAdjust="spacingAndGlyphs">13 cm</text>
<!-- /IJ -->
</svg>
</body></html>
